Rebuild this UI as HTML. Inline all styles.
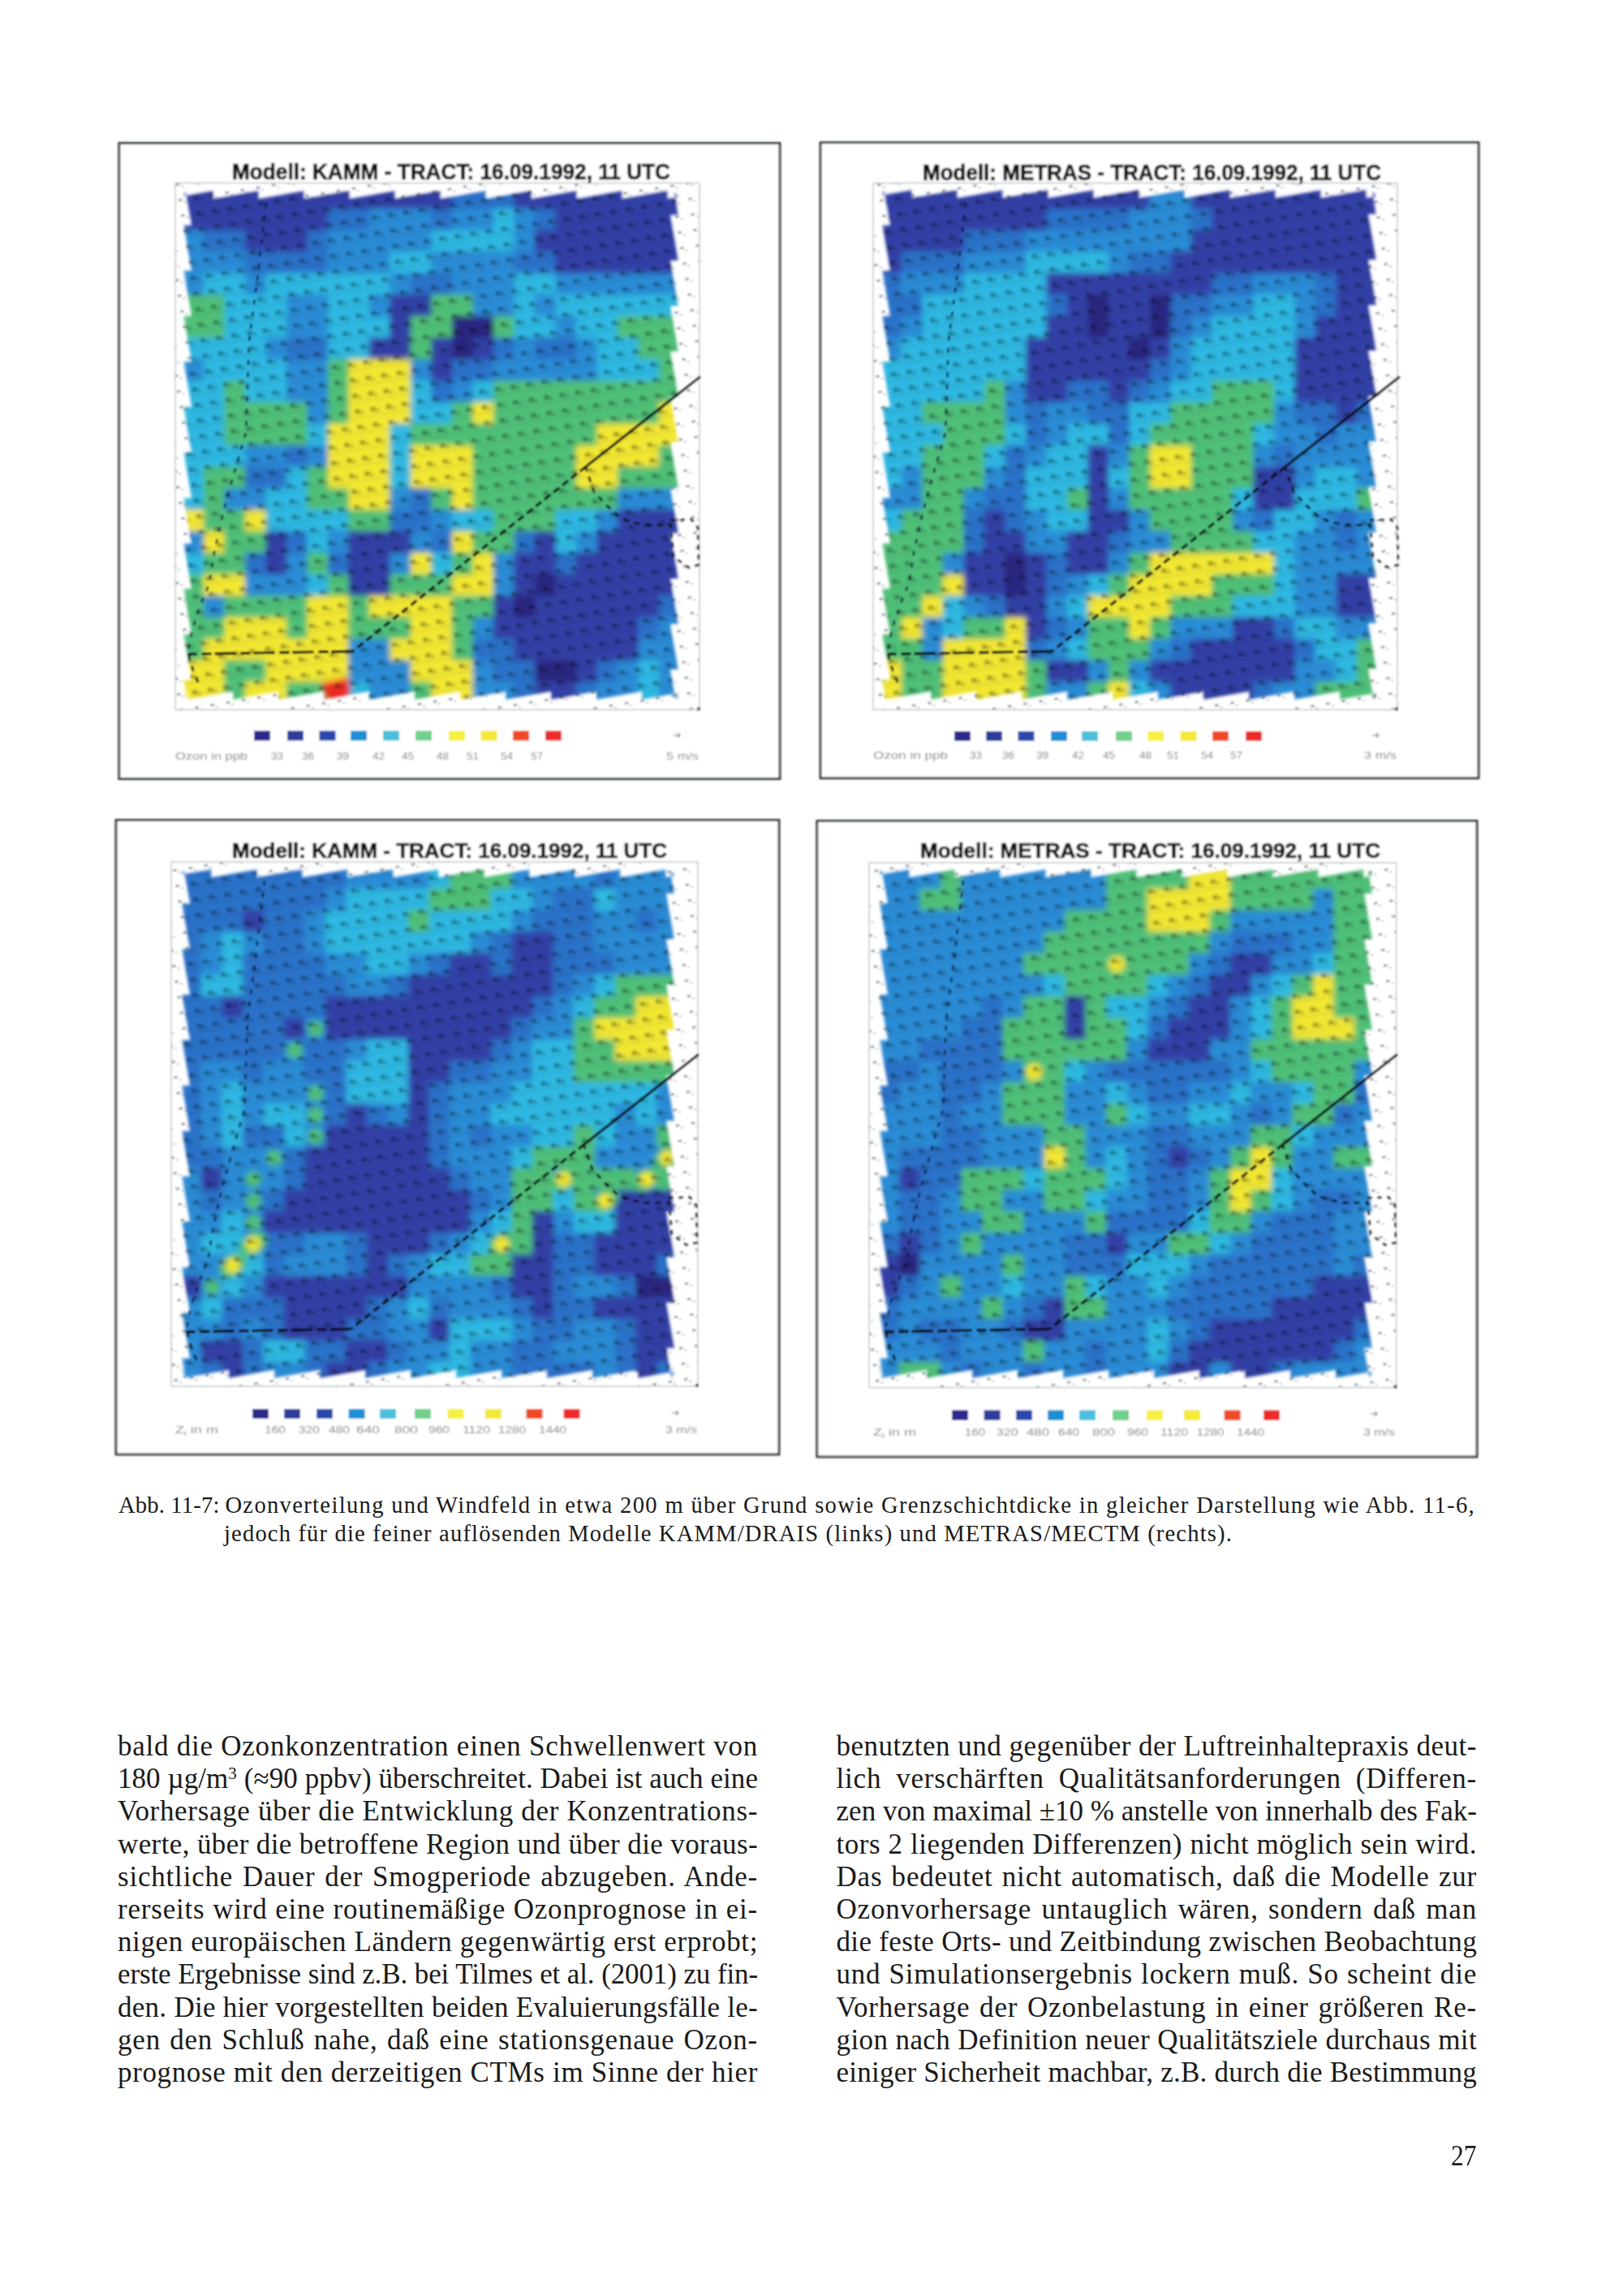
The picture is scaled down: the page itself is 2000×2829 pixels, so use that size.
<!DOCTYPE html>
<html lang="de"><head><meta charset="utf-8"><title>Abb. 11-7</title>
<style>
html,body{margin:0;padding:0;background:#fff}
body{width:2000px;height:2829px;position:relative;overflow:hidden;font-family:"Liberation Serif",serif;color:#1a1a1a}
.l{position:absolute;white-space:nowrap;transform-origin:0 0;line-height:1}
.b{font-size:35px}
.c{font-size:28.6px;letter-spacing:1.1px}
sup{font-size:60%;line-height:0;vertical-align:baseline;position:relative;top:-0.55em}
</style></head><body>
<svg width="2000" height="2829" viewBox="0 0 2000 2829" style="position:absolute;left:0;top:0;font-family:'Liberation Sans',sans-serif">
<defs>
<filter id="bl" x="-5%" y="-5%" width="110%" height="110%"><feGaussianBlur stdDeviation="3.2"/></filter>
<filter id="bl2" x="-5%" y="-5%" width="110%" height="110%"><feGaussianBlur stdDeviation="1.6"/></filter>
<filter id="soft" x="-2%" y="-2%" width="104%" height="104%"><feGaussianBlur stdDeviation="0.9"/></filter>
<pattern id="dots" width="19.4" height="19.4" patternUnits="userSpaceOnUse" patternTransform="rotate(-9)"><rect x="3.5" y="4.5" width="6" height="5" fill="#000" opacity="0.40"/><rect x="9.5" y="7.5" width="5" height="3.5" fill="#000" opacity="0.22"/><rect x="0" y="13" width="19.4" height="3" fill="#000" opacity="0.05"/></pattern>
<pattern id="spk" width="19.4" height="19.4" patternUnits="userSpaceOnUse" patternTransform="rotate(-9)"><rect x="4" y="5" width="4.5" height="3" fill="#3e444c" opacity="0.5"/><rect x="10" y="9" width="3" height="2" fill="#3e444c" opacity="0.3"/></pattern>
</defs>
<g filter="url(#soft)">
<rect x="146.8" y="176.4" width="814.2" height="783.2" fill="#fff" stroke="#2b3234" stroke-width="2.8"/>
<rect x="216.0" y="225.5" width="646.0" height="649.0" fill="url(#spk)"/>
<rect x="216.0" y="225.5" width="646.0" height="649.0" fill="none" stroke="#b9bcc0" stroke-width="1.3"/>
<rect x="859.0" y="871.5" width="4" height="4" fill="#444"/>
<clipPath id="cp1"><path d="M226.0 241.5 L262.4 235.0 L262.4 245.0 L318.4 235.0 L318.4 245.0 L374.4 235.0 L374.4 245.0 L430.4 235.0 L430.4 245.0 L486.4 235.0 L486.4 245.0 L542.4 235.0 L542.4 245.0 L598.4 235.0 L598.4 245.0 L654.4 235.0 L654.4 245.0 L710.4 235.0 L710.4 245.0 L766.4 235.0 L766.4 245.0 L822.4 235.0 L822.4 245.0 L836.0 242.6 L831.0 237.0 L836.0 265.0 L826.0 265.0 L836.0 321.0 L826.0 321.0 L836.0 377.0 L826.0 377.0 L836.0 433.0 L826.0 433.0 L836.0 489.0 L826.0 489.0 L836.0 545.0 L826.0 545.0 L836.0 601.0 L826.0 601.0 L836.0 657.0 L826.0 657.0 L836.0 713.0 L826.0 713.0 L836.0 769.0 L826.0 769.0 L836.0 825.0 L826.0 825.0 L832.6 862.0 L836.0 854.0 L791.2 862.0 L791.2 852.0 L735.2 862.0 L735.2 852.0 L679.2 862.0 L679.2 852.0 L623.2 862.0 L623.2 852.0 L567.2 862.0 L567.2 852.0 L511.2 862.0 L511.2 852.0 L455.2 862.0 L455.2 852.0 L399.2 862.0 L399.2 852.0 L343.2 862.0 L343.2 852.0 L287.2 862.0 L287.2 852.0 L231.2 862.0 L231.2 852.0 L226.0 852.9 L230.0 860.0 L226.0 837.6 L236.0 837.6 L226.0 781.6 L236.0 781.6 L226.0 725.6 L236.0 725.6 L226.0 669.6 L236.0 669.6 L226.0 613.6 L236.0 613.6 L226.0 557.6 L236.0 557.6 L226.0 501.6 L236.0 501.6 L226.0 445.6 L236.0 445.6 L226.0 389.6 L236.0 389.6 L226.0 333.6 L236.0 333.6 L226.0 277.6 L236.0 277.6 L228.4 235.0 Z"/></clipPath>
<g filter="url(#bl2)">
<g clip-path="url(#cp1)">
<g filter="url(#bl)">
<rect x="225.5" y="230.5" width="332.5" height="27.5" fill="#3340a6"/>
<rect x="557.0" y="230.5" width="77.5" height="27.5" fill="#2c72c9"/>
<rect x="633.5" y="230.5" width="205.0" height="27.5" fill="#3340a6"/>
<rect x="225.5" y="257.0" width="179.5" height="27.5" fill="#3340a6"/>
<rect x="404.0" y="257.0" width="52.0" height="27.5" fill="#2c72c9"/>
<rect x="455.0" y="257.0" width="77.5" height="27.5" fill="#2a8cd6"/>
<rect x="531.5" y="257.0" width="26.5" height="27.5" fill="#2c72c9"/>
<rect x="557.0" y="257.0" width="52.0" height="27.5" fill="#2a8cd6"/>
<rect x="608.0" y="257.0" width="26.5" height="27.5" fill="#2fb8e2"/>
<rect x="633.5" y="257.0" width="26.5" height="27.5" fill="#2a8cd6"/>
<rect x="659.0" y="257.0" width="26.5" height="27.5" fill="#2c72c9"/>
<rect x="684.5" y="257.0" width="154.0" height="27.5" fill="#3340a6"/>
<rect x="225.5" y="283.5" width="26.5" height="27.5" fill="#2a8cd6"/>
<rect x="251.0" y="283.5" width="52.0" height="27.5" fill="#2c72c9"/>
<rect x="302.0" y="283.5" width="77.5" height="27.5" fill="#3340a6"/>
<rect x="378.5" y="283.5" width="26.5" height="27.5" fill="#2c72c9"/>
<rect x="404.0" y="283.5" width="128.5" height="27.5" fill="#2a8cd6"/>
<rect x="531.5" y="283.5" width="103.0" height="27.5" fill="#2fb8e2"/>
<rect x="633.5" y="283.5" width="26.5" height="27.5" fill="#2a8cd6"/>
<rect x="659.0" y="283.5" width="179.5" height="27.5" fill="#3340a6"/>
<rect x="225.5" y="310.0" width="77.5" height="27.5" fill="#2a8cd6"/>
<rect x="302.0" y="310.0" width="103.0" height="27.5" fill="#2c72c9"/>
<rect x="404.0" y="310.0" width="77.5" height="27.5" fill="#2a8cd6"/>
<rect x="480.5" y="310.0" width="52.0" height="27.5" fill="#2fb8e2"/>
<rect x="531.5" y="310.0" width="103.0" height="27.5" fill="#2a8cd6"/>
<rect x="633.5" y="310.0" width="52.0" height="27.5" fill="#2c72c9"/>
<rect x="684.5" y="310.0" width="154.0" height="27.5" fill="#3340a6"/>
<rect x="225.5" y="336.5" width="26.5" height="27.5" fill="#2a8cd6"/>
<rect x="251.0" y="336.5" width="52.0" height="27.5" fill="#2fb8e2"/>
<rect x="302.0" y="336.5" width="26.5" height="27.5" fill="#2a8cd6"/>
<rect x="327.5" y="336.5" width="154.0" height="27.5" fill="#2fb8e2"/>
<rect x="480.5" y="336.5" width="26.5" height="27.5" fill="#2a8cd6"/>
<rect x="506.0" y="336.5" width="52.0" height="27.5" fill="#2c72c9"/>
<rect x="557.0" y="336.5" width="77.5" height="27.5" fill="#2a8cd6"/>
<rect x="633.5" y="336.5" width="52.0" height="27.5" fill="#2fb8e2"/>
<rect x="684.5" y="336.5" width="154.0" height="27.5" fill="#2a8cd6"/>
<rect x="225.5" y="363.0" width="52.0" height="27.5" fill="#50c078"/>
<rect x="276.5" y="363.0" width="77.5" height="27.5" fill="#2fb8e2"/>
<rect x="353.0" y="363.0" width="52.0" height="27.5" fill="#2a8cd6"/>
<rect x="404.0" y="363.0" width="52.0" height="27.5" fill="#2fb8e2"/>
<rect x="455.0" y="363.0" width="26.5" height="27.5" fill="#2a8cd6"/>
<rect x="480.5" y="363.0" width="52.0" height="27.5" fill="#3340a6"/>
<rect x="531.5" y="363.0" width="52.0" height="27.5" fill="#50c078"/>
<rect x="582.5" y="363.0" width="52.0" height="27.5" fill="#2a8cd6"/>
<rect x="633.5" y="363.0" width="26.5" height="27.5" fill="#2fb8e2"/>
<rect x="659.0" y="363.0" width="26.5" height="27.5" fill="#2a8cd6"/>
<rect x="684.5" y="363.0" width="154.0" height="27.5" fill="#2fb8e2"/>
<rect x="225.5" y="389.5" width="52.0" height="27.5" fill="#50c078"/>
<rect x="276.5" y="389.5" width="77.5" height="27.5" fill="#2fb8e2"/>
<rect x="353.0" y="389.5" width="52.0" height="27.5" fill="#2a8cd6"/>
<rect x="404.0" y="389.5" width="77.5" height="27.5" fill="#2fb8e2"/>
<rect x="480.5" y="389.5" width="26.5" height="27.5" fill="#3340a6"/>
<rect x="506.0" y="389.5" width="52.0" height="27.5" fill="#50c078"/>
<rect x="557.0" y="389.5" width="52.0" height="27.5" fill="#2a2880"/>
<rect x="608.0" y="389.5" width="26.5" height="27.5" fill="#50c078"/>
<rect x="633.5" y="389.5" width="52.0" height="27.5" fill="#2fb8e2"/>
<rect x="684.5" y="389.5" width="26.5" height="27.5" fill="#2a8cd6"/>
<rect x="710.0" y="389.5" width="52.0" height="27.5" fill="#2fb8e2"/>
<rect x="761.0" y="389.5" width="77.5" height="27.5" fill="#50c078"/>
<rect x="225.5" y="416.0" width="103.0" height="27.5" fill="#2fb8e2"/>
<rect x="327.5" y="416.0" width="26.5" height="27.5" fill="#2a8cd6"/>
<rect x="353.0" y="416.0" width="52.0" height="27.5" fill="#2c72c9"/>
<rect x="404.0" y="416.0" width="52.0" height="27.5" fill="#2fb8e2"/>
<rect x="455.0" y="416.0" width="52.0" height="27.5" fill="#3340a6"/>
<rect x="506.0" y="416.0" width="26.5" height="27.5" fill="#50c078"/>
<rect x="531.5" y="416.0" width="26.5" height="27.5" fill="#3340a6"/>
<rect x="557.0" y="416.0" width="26.5" height="27.5" fill="#2a2880"/>
<rect x="582.5" y="416.0" width="26.5" height="27.5" fill="#3340a6"/>
<rect x="608.0" y="416.0" width="26.5" height="27.5" fill="#2c72c9"/>
<rect x="633.5" y="416.0" width="26.5" height="27.5" fill="#2a8cd6"/>
<rect x="659.0" y="416.0" width="52.0" height="27.5" fill="#2c72c9"/>
<rect x="710.0" y="416.0" width="26.5" height="27.5" fill="#2a8cd6"/>
<rect x="735.5" y="416.0" width="52.0" height="27.5" fill="#2fb8e2"/>
<rect x="786.5" y="416.0" width="52.0" height="27.5" fill="#50c078"/>
<rect x="225.5" y="442.5" width="26.5" height="27.5" fill="#2a8cd6"/>
<rect x="251.0" y="442.5" width="103.0" height="27.5" fill="#2fb8e2"/>
<rect x="353.0" y="442.5" width="52.0" height="27.5" fill="#2a8cd6"/>
<rect x="404.0" y="442.5" width="26.5" height="27.5" fill="#50c078"/>
<rect x="429.5" y="442.5" width="77.5" height="27.5" fill="#f2e732"/>
<rect x="506.0" y="442.5" width="26.5" height="27.5" fill="#2a8cd6"/>
<rect x="531.5" y="442.5" width="26.5" height="27.5" fill="#3340a6"/>
<rect x="557.0" y="442.5" width="52.0" height="27.5" fill="#2c72c9"/>
<rect x="608.0" y="442.5" width="128.5" height="27.5" fill="#2a8cd6"/>
<rect x="735.5" y="442.5" width="77.5" height="27.5" fill="#2fb8e2"/>
<rect x="812.0" y="442.5" width="26.5" height="27.5" fill="#50c078"/>
<rect x="225.5" y="469.0" width="52.0" height="27.5" fill="#2fb8e2"/>
<rect x="276.5" y="469.0" width="26.5" height="27.5" fill="#50c078"/>
<rect x="302.0" y="469.0" width="52.0" height="27.5" fill="#2fb8e2"/>
<rect x="353.0" y="469.0" width="52.0" height="27.5" fill="#2a8cd6"/>
<rect x="404.0" y="469.0" width="26.5" height="27.5" fill="#50c078"/>
<rect x="429.5" y="469.0" width="77.5" height="27.5" fill="#f2e732"/>
<rect x="506.0" y="469.0" width="26.5" height="27.5" fill="#2fb8e2"/>
<rect x="531.5" y="469.0" width="26.5" height="27.5" fill="#2c72c9"/>
<rect x="557.0" y="469.0" width="26.5" height="27.5" fill="#2a8cd6"/>
<rect x="582.5" y="469.0" width="26.5" height="27.5" fill="#2fb8e2"/>
<rect x="608.0" y="469.0" width="230.5" height="27.5" fill="#50c078"/>
<rect x="225.5" y="495.5" width="52.0" height="27.5" fill="#2fb8e2"/>
<rect x="276.5" y="495.5" width="103.0" height="27.5" fill="#50c078"/>
<rect x="378.5" y="495.5" width="26.5" height="27.5" fill="#2a8cd6"/>
<rect x="404.0" y="495.5" width="26.5" height="27.5" fill="#50c078"/>
<rect x="429.5" y="495.5" width="77.5" height="27.5" fill="#f2e732"/>
<rect x="506.0" y="495.5" width="52.0" height="27.5" fill="#2fb8e2"/>
<rect x="557.0" y="495.5" width="26.5" height="27.5" fill="#50c078"/>
<rect x="582.5" y="495.5" width="26.5" height="27.5" fill="#f2e732"/>
<rect x="608.0" y="495.5" width="205.0" height="27.5" fill="#50c078"/>
<rect x="812.0" y="495.5" width="26.5" height="27.5" fill="#f2e732"/>
<rect x="225.5" y="522.0" width="52.0" height="27.5" fill="#2fb8e2"/>
<rect x="276.5" y="522.0" width="103.0" height="27.5" fill="#50c078"/>
<rect x="378.5" y="522.0" width="26.5" height="27.5" fill="#2fb8e2"/>
<rect x="404.0" y="522.0" width="77.5" height="27.5" fill="#f2e732"/>
<rect x="480.5" y="522.0" width="26.5" height="27.5" fill="#2fb8e2"/>
<rect x="506.0" y="522.0" width="230.5" height="27.5" fill="#50c078"/>
<rect x="735.5" y="522.0" width="103.0" height="27.5" fill="#f2e732"/>
<rect x="225.5" y="548.5" width="77.5" height="27.5" fill="#2fb8e2"/>
<rect x="302.0" y="548.5" width="52.0" height="27.5" fill="#2a8cd6"/>
<rect x="353.0" y="548.5" width="26.5" height="27.5" fill="#2c72c9"/>
<rect x="378.5" y="548.5" width="26.5" height="27.5" fill="#2a8cd6"/>
<rect x="404.0" y="548.5" width="77.5" height="27.5" fill="#f2e732"/>
<rect x="480.5" y="548.5" width="26.5" height="27.5" fill="#2fb8e2"/>
<rect x="506.0" y="548.5" width="77.5" height="27.5" fill="#f2e732"/>
<rect x="582.5" y="548.5" width="128.5" height="27.5" fill="#50c078"/>
<rect x="710.0" y="548.5" width="103.0" height="27.5" fill="#f2e732"/>
<rect x="812.0" y="548.5" width="26.5" height="27.5" fill="#50c078"/>
<rect x="225.5" y="575.0" width="26.5" height="27.5" fill="#2fb8e2"/>
<rect x="251.0" y="575.0" width="52.0" height="27.5" fill="#50c078"/>
<rect x="302.0" y="575.0" width="52.0" height="27.5" fill="#2c72c9"/>
<rect x="353.0" y="575.0" width="26.5" height="27.5" fill="#2fb8e2"/>
<rect x="378.5" y="575.0" width="26.5" height="27.5" fill="#50c078"/>
<rect x="404.0" y="575.0" width="77.5" height="27.5" fill="#f2e732"/>
<rect x="480.5" y="575.0" width="26.5" height="27.5" fill="#2fb8e2"/>
<rect x="506.0" y="575.0" width="77.5" height="27.5" fill="#f2e732"/>
<rect x="582.5" y="575.0" width="128.5" height="27.5" fill="#50c078"/>
<rect x="710.0" y="575.0" width="52.0" height="27.5" fill="#f2e732"/>
<rect x="761.0" y="575.0" width="77.5" height="27.5" fill="#50c078"/>
<rect x="225.5" y="601.5" width="26.5" height="27.5" fill="#2fb8e2"/>
<rect x="251.0" y="601.5" width="26.5" height="27.5" fill="#50c078"/>
<rect x="276.5" y="601.5" width="52.0" height="27.5" fill="#2a8cd6"/>
<rect x="327.5" y="601.5" width="52.0" height="27.5" fill="#2fb8e2"/>
<rect x="378.5" y="601.5" width="52.0" height="27.5" fill="#50c078"/>
<rect x="429.5" y="601.5" width="52.0" height="27.5" fill="#f2e732"/>
<rect x="480.5" y="601.5" width="26.5" height="27.5" fill="#2a8cd6"/>
<rect x="506.0" y="601.5" width="26.5" height="27.5" fill="#2c72c9"/>
<rect x="531.5" y="601.5" width="26.5" height="27.5" fill="#50c078"/>
<rect x="557.0" y="601.5" width="26.5" height="27.5" fill="#f2e732"/>
<rect x="582.5" y="601.5" width="179.5" height="27.5" fill="#50c078"/>
<rect x="761.0" y="601.5" width="77.5" height="27.5" fill="#2a8cd6"/>
<rect x="225.5" y="628.0" width="26.5" height="27.5" fill="#f2e732"/>
<rect x="251.0" y="628.0" width="52.0" height="27.5" fill="#50c078"/>
<rect x="302.0" y="628.0" width="26.5" height="27.5" fill="#f2e732"/>
<rect x="327.5" y="628.0" width="103.0" height="27.5" fill="#2fb8e2"/>
<rect x="429.5" y="628.0" width="52.0" height="27.5" fill="#50c078"/>
<rect x="480.5" y="628.0" width="52.0" height="27.5" fill="#2c72c9"/>
<rect x="531.5" y="628.0" width="26.5" height="27.5" fill="#2a8cd6"/>
<rect x="557.0" y="628.0" width="52.0" height="27.5" fill="#2fb8e2"/>
<rect x="608.0" y="628.0" width="77.5" height="27.5" fill="#50c078"/>
<rect x="684.5" y="628.0" width="52.0" height="27.5" fill="#2fb8e2"/>
<rect x="735.5" y="628.0" width="26.5" height="27.5" fill="#2a8cd6"/>
<rect x="761.0" y="628.0" width="77.5" height="27.5" fill="#3340a6"/>
<rect x="225.5" y="654.5" width="26.5" height="27.5" fill="#2a8cd6"/>
<rect x="251.0" y="654.5" width="26.5" height="27.5" fill="#f2e732"/>
<rect x="276.5" y="654.5" width="52.0" height="27.5" fill="#50c078"/>
<rect x="327.5" y="654.5" width="26.5" height="27.5" fill="#3340a6"/>
<rect x="353.0" y="654.5" width="26.5" height="27.5" fill="#2c72c9"/>
<rect x="378.5" y="654.5" width="26.5" height="27.5" fill="#2fb8e2"/>
<rect x="404.0" y="654.5" width="26.5" height="27.5" fill="#2a8cd6"/>
<rect x="429.5" y="654.5" width="77.5" height="27.5" fill="#3340a6"/>
<rect x="506.0" y="654.5" width="26.5" height="27.5" fill="#2a8cd6"/>
<rect x="531.5" y="654.5" width="26.5" height="27.5" fill="#2c72c9"/>
<rect x="557.0" y="654.5" width="26.5" height="27.5" fill="#f2e732"/>
<rect x="582.5" y="654.5" width="52.0" height="27.5" fill="#50c078"/>
<rect x="633.5" y="654.5" width="26.5" height="27.5" fill="#2c72c9"/>
<rect x="659.0" y="654.5" width="26.5" height="27.5" fill="#3340a6"/>
<rect x="684.5" y="654.5" width="26.5" height="27.5" fill="#2fb8e2"/>
<rect x="710.0" y="654.5" width="26.5" height="27.5" fill="#2a8cd6"/>
<rect x="735.5" y="654.5" width="103.0" height="27.5" fill="#3340a6"/>
<rect x="225.5" y="681.0" width="26.5" height="27.5" fill="#2fb8e2"/>
<rect x="251.0" y="681.0" width="52.0" height="27.5" fill="#50c078"/>
<rect x="302.0" y="681.0" width="26.5" height="27.5" fill="#2c72c9"/>
<rect x="327.5" y="681.0" width="26.5" height="27.5" fill="#3340a6"/>
<rect x="353.0" y="681.0" width="26.5" height="27.5" fill="#2a8cd6"/>
<rect x="378.5" y="681.0" width="26.5" height="27.5" fill="#50c078"/>
<rect x="404.0" y="681.0" width="26.5" height="27.5" fill="#2c72c9"/>
<rect x="429.5" y="681.0" width="52.0" height="27.5" fill="#3340a6"/>
<rect x="480.5" y="681.0" width="26.5" height="27.5" fill="#2a8cd6"/>
<rect x="506.0" y="681.0" width="26.5" height="27.5" fill="#f2e732"/>
<rect x="531.5" y="681.0" width="26.5" height="27.5" fill="#2fb8e2"/>
<rect x="557.0" y="681.0" width="26.5" height="27.5" fill="#50c078"/>
<rect x="582.5" y="681.0" width="26.5" height="27.5" fill="#f2e732"/>
<rect x="608.0" y="681.0" width="26.5" height="27.5" fill="#2a8cd6"/>
<rect x="633.5" y="681.0" width="52.0" height="27.5" fill="#3340a6"/>
<rect x="684.5" y="681.0" width="26.5" height="27.5" fill="#2c72c9"/>
<rect x="710.0" y="681.0" width="128.5" height="27.5" fill="#3340a6"/>
<rect x="225.5" y="707.5" width="26.5" height="27.5" fill="#50c078"/>
<rect x="251.0" y="707.5" width="52.0" height="27.5" fill="#f2e732"/>
<rect x="302.0" y="707.5" width="77.5" height="27.5" fill="#2a8cd6"/>
<rect x="378.5" y="707.5" width="26.5" height="27.5" fill="#2fb8e2"/>
<rect x="404.0" y="707.5" width="26.5" height="27.5" fill="#50c078"/>
<rect x="429.5" y="707.5" width="52.0" height="27.5" fill="#3340a6"/>
<rect x="480.5" y="707.5" width="77.5" height="27.5" fill="#50c078"/>
<rect x="557.0" y="707.5" width="52.0" height="27.5" fill="#f2e732"/>
<rect x="608.0" y="707.5" width="26.5" height="27.5" fill="#2a8cd6"/>
<rect x="633.5" y="707.5" width="26.5" height="27.5" fill="#3340a6"/>
<rect x="659.0" y="707.5" width="26.5" height="27.5" fill="#2a2880"/>
<rect x="684.5" y="707.5" width="154.0" height="27.5" fill="#3340a6"/>
<rect x="225.5" y="734.0" width="26.5" height="27.5" fill="#50c078"/>
<rect x="251.0" y="734.0" width="26.5" height="27.5" fill="#2a8cd6"/>
<rect x="276.5" y="734.0" width="103.0" height="27.5" fill="#50c078"/>
<rect x="378.5" y="734.0" width="52.0" height="27.5" fill="#f2e732"/>
<rect x="429.5" y="734.0" width="26.5" height="27.5" fill="#50c078"/>
<rect x="455.0" y="734.0" width="103.0" height="27.5" fill="#f2e732"/>
<rect x="557.0" y="734.0" width="52.0" height="27.5" fill="#50c078"/>
<rect x="608.0" y="734.0" width="26.5" height="27.5" fill="#3340a6"/>
<rect x="633.5" y="734.0" width="26.5" height="27.5" fill="#2a2880"/>
<rect x="659.0" y="734.0" width="154.0" height="27.5" fill="#3340a6"/>
<rect x="812.0" y="734.0" width="26.5" height="27.5" fill="#2c72c9"/>
<rect x="225.5" y="760.5" width="52.0" height="27.5" fill="#50c078"/>
<rect x="276.5" y="760.5" width="77.5" height="27.5" fill="#f2e732"/>
<rect x="353.0" y="760.5" width="26.5" height="27.5" fill="#50c078"/>
<rect x="378.5" y="760.5" width="52.0" height="27.5" fill="#f2e732"/>
<rect x="429.5" y="760.5" width="77.5" height="27.5" fill="#50c078"/>
<rect x="506.0" y="760.5" width="52.0" height="27.5" fill="#f2e732"/>
<rect x="557.0" y="760.5" width="26.5" height="27.5" fill="#50c078"/>
<rect x="582.5" y="760.5" width="26.5" height="27.5" fill="#2a8cd6"/>
<rect x="608.0" y="760.5" width="179.5" height="27.5" fill="#3340a6"/>
<rect x="786.5" y="760.5" width="26.5" height="27.5" fill="#2c72c9"/>
<rect x="812.0" y="760.5" width="26.5" height="27.5" fill="#2a8cd6"/>
<rect x="225.5" y="787.0" width="26.5" height="27.5" fill="#50c078"/>
<rect x="251.0" y="787.0" width="179.5" height="27.5" fill="#f2e732"/>
<rect x="429.5" y="787.0" width="52.0" height="27.5" fill="#2a8cd6"/>
<rect x="480.5" y="787.0" width="77.5" height="27.5" fill="#f2e732"/>
<rect x="557.0" y="787.0" width="26.5" height="27.5" fill="#50c078"/>
<rect x="582.5" y="787.0" width="52.0" height="27.5" fill="#2c72c9"/>
<rect x="633.5" y="787.0" width="154.0" height="27.5" fill="#3340a6"/>
<rect x="786.5" y="787.0" width="52.0" height="27.5" fill="#2a8cd6"/>
<rect x="225.5" y="813.5" width="52.0" height="27.5" fill="#f2e732"/>
<rect x="276.5" y="813.5" width="52.0" height="27.5" fill="#50c078"/>
<rect x="327.5" y="813.5" width="103.0" height="27.5" fill="#f2e732"/>
<rect x="429.5" y="813.5" width="77.5" height="27.5" fill="#2a8cd6"/>
<rect x="506.0" y="813.5" width="77.5" height="27.5" fill="#f2e732"/>
<rect x="582.5" y="813.5" width="26.5" height="27.5" fill="#2a8cd6"/>
<rect x="608.0" y="813.5" width="52.0" height="27.5" fill="#2c72c9"/>
<rect x="659.0" y="813.5" width="52.0" height="27.5" fill="#2a2880"/>
<rect x="710.0" y="813.5" width="26.5" height="27.5" fill="#3340a6"/>
<rect x="735.5" y="813.5" width="26.5" height="27.5" fill="#2c72c9"/>
<rect x="761.0" y="813.5" width="26.5" height="27.5" fill="#2a8cd6"/>
<rect x="786.5" y="813.5" width="26.5" height="27.5" fill="#2fb8e2"/>
<rect x="812.0" y="813.5" width="26.5" height="27.5" fill="#2a8cd6"/>
<rect x="225.5" y="840.0" width="52.0" height="27.5" fill="#f2e732"/>
<rect x="276.5" y="840.0" width="26.5" height="27.5" fill="#50c078"/>
<rect x="302.0" y="840.0" width="52.0" height="27.5" fill="#f2e732"/>
<rect x="353.0" y="840.0" width="52.0" height="27.5" fill="#50c078"/>
<rect x="404.0" y="840.0" width="26.5" height="27.5" fill="#ee2c24"/>
<rect x="429.5" y="840.0" width="26.5" height="27.5" fill="#2fb8e2"/>
<rect x="455.0" y="840.0" width="52.0" height="27.5" fill="#2a8cd6"/>
<rect x="506.0" y="840.0" width="26.5" height="27.5" fill="#50c078"/>
<rect x="531.5" y="840.0" width="52.0" height="27.5" fill="#f2e732"/>
<rect x="582.5" y="840.0" width="52.0" height="27.5" fill="#2a8cd6"/>
<rect x="633.5" y="840.0" width="26.5" height="27.5" fill="#2c72c9"/>
<rect x="659.0" y="840.0" width="52.0" height="27.5" fill="#3340a6"/>
<rect x="710.0" y="840.0" width="26.5" height="27.5" fill="#2c72c9"/>
<rect x="735.5" y="840.0" width="52.0" height="27.5" fill="#2a8cd6"/>
<rect x="786.5" y="840.0" width="26.5" height="27.5" fill="#2fb8e2"/>
<rect x="812.0" y="840.0" width="26.5" height="27.5" fill="#2a8cd6"/>
<rect x="398" y="838" width="33" height="19" fill="#ee2c24" transform="rotate(-12 414 848)"/>
</g>
<rect x="216.0" y="225.0" width="630.0" height="647.0" fill="url(#dots)"/>
</g>
</g>
<polyline points="863.0,464.0 722.0,575.0" fill="none" stroke="#0a0a14" stroke-width="3.4"/>
<polyline points="722.0,575.0 434.5,802.5" fill="none" stroke="#0a0a14" stroke-width="3.4" stroke-dasharray="9 5"/>
<polyline points="434.5,802.5 232.0,806.0" fill="none" stroke="#0a0a14" stroke-width="3.4" stroke-dasharray="26 4 12 6"/>
<polyline points="328.0,250.0 317.0,344.0 307.0,420.0 303.0,533.0 296.0,557.0 283.0,602.0 273.0,640.0 264.0,681.0 258.0,719.0 250.0,738.0 237.0,775.0 232.0,802.0" fill="none" stroke="#0b1238" stroke-width="2.8" stroke-dasharray="6 9" opacity="0.78"/>
<polyline points="232.0,806.0 238.0,826.0 247.0,848.0" fill="none" stroke="#0a0a14" stroke-width="3.2" stroke-dasharray="7 8" opacity="0.8"/>
<polyline points="721.0,574.0 732.0,606.0 749.0,624.0 764.0,638.0 777.0,643.0 796.0,647.0 826.0,647.0" fill="none" stroke="#0a0a14" stroke-width="3.2" stroke-dasharray="7 7" opacity="0.8"/>
<polygon points="826.0,641.0 852.0,640.0 860.0,650.0 861.0,696.0 848.0,699.0 830.0,686.0" fill="none" stroke="#111" stroke-width="3.2" stroke-dasharray="6 6" opacity="0.85"/>
<text x="286.0" y="221.2" font-size="27" font-weight="bold" fill="#0a0a0a" stroke="#0a0a0a" stroke-width="0.7" textLength="540.0" lengthAdjust="spacingAndGlyphs">Modell: KAMM - TRACT: 16.09.1992, 11 UTC</text>
<rect x="313.0" y="900.5" width="20.0" height="12.0" fill="#2c2c8c"/>
<rect x="354.0" y="900.5" width="20.0" height="12.0" fill="#2f3d9b"/>
<rect x="393.5" y="900.5" width="20.0" height="12.0" fill="#2a4aaa"/>
<rect x="432.0" y="900.5" width="20.0" height="12.0" fill="#1f8fd6"/>
<rect x="472.0" y="900.5" width="20.0" height="12.0" fill="#4cc0da"/>
<rect x="512.0" y="900.5" width="20.0" height="12.0" fill="#6fd08c"/>
<rect x="553.0" y="900.5" width="20.0" height="12.0" fill="#f6f040"/>
<rect x="592.5" y="900.5" width="20.0" height="12.0" fill="#f4e838"/>
<rect x="632.0" y="900.5" width="20.0" height="12.0" fill="#f04a28"/>
<rect x="672.0" y="900.5" width="20.0" height="12.0" fill="#ee2a2a"/>
<text x="216.0" y="936.0" font-size="13.5" fill="#7c8187" textLength="89.0" lengthAdjust="spacingAndGlyphs">Ozon in ppb</text>
<text x="334.0" y="936.0" font-size="13.5" fill="#7c8187">33</text>
<text x="372.0" y="936.0" font-size="13.5" fill="#7c8187">36</text>
<text x="415.0" y="936.0" font-size="13.5" fill="#7c8187">39</text>
<text x="459.0" y="936.0" font-size="13.5" fill="#7c8187">42</text>
<text x="495.0" y="936.0" font-size="13.5" fill="#7c8187">45</text>
<text x="538.0" y="936.0" font-size="13.5" fill="#7c8187">48</text>
<text x="575.0" y="936.0" font-size="13.5" fill="#7c8187">51</text>
<text x="617.0" y="936.0" font-size="13.5" fill="#7c8187">54</text>
<text x="654.0" y="936.0" font-size="13.5" fill="#7c8187">57</text>
<text x="821.0" y="936.0" font-size="13.5" fill="#7c8187" textLength="40.0" lengthAdjust="spacingAndGlyphs">5 m/s</text>
<path d="M830.0 906.0 h8 m-3 -3 l3 3 l-3 3" fill="none" stroke="#999" stroke-width="1.5"/>
<rect x="1011.0" y="175.7" width="811.0" height="783.1" fill="#fff" stroke="#2b3234" stroke-width="2.8"/>
<rect x="1076.0" y="225.5" width="646.0" height="649.0" fill="url(#spk)"/>
<rect x="1076.0" y="225.5" width="646.0" height="649.0" fill="none" stroke="#b9bcc0" stroke-width="1.3"/>
<rect x="1719.0" y="871.5" width="4" height="4" fill="#444"/>
<clipPath id="cp2"><path d="M1087.0 240.5 L1123.4 234.0 L1123.4 244.0 L1179.4 234.0 L1179.4 244.0 L1235.4 234.0 L1235.4 244.0 L1291.4 234.0 L1291.4 244.0 L1347.4 234.0 L1347.4 244.0 L1403.4 234.0 L1403.4 244.0 L1459.4 234.0 L1459.4 244.0 L1515.4 234.0 L1515.4 244.0 L1571.4 234.0 L1571.4 244.0 L1627.4 234.0 L1627.4 244.0 L1683.4 234.0 L1683.4 244.0 L1696.0 241.8 L1691.0 236.0 L1696.0 264.0 L1686.0 264.0 L1696.0 320.0 L1686.0 320.0 L1696.0 376.0 L1686.0 376.0 L1696.0 432.0 L1686.0 432.0 L1696.0 488.0 L1686.0 488.0 L1696.0 544.0 L1686.0 544.0 L1696.0 600.0 L1686.0 600.0 L1696.0 656.0 L1686.0 656.0 L1696.0 712.0 L1686.0 712.0 L1696.0 768.0 L1686.0 768.0 L1696.0 824.0 L1686.0 824.0 L1692.8 862.0 L1696.0 854.0 L1651.2 862.0 L1651.2 852.0 L1595.2 862.0 L1595.2 852.0 L1539.2 862.0 L1539.2 852.0 L1483.2 862.0 L1483.2 852.0 L1427.2 862.0 L1427.2 852.0 L1371.2 862.0 L1371.2 852.0 L1315.2 862.0 L1315.2 852.0 L1259.2 862.0 L1259.2 852.0 L1203.2 862.0 L1203.2 852.0 L1147.2 862.0 L1147.2 852.0 L1091.2 862.0 L1091.2 852.0 L1087.0 852.8 L1091.0 860.0 L1087.0 837.6 L1097.0 837.6 L1087.0 781.6 L1097.0 781.6 L1087.0 725.6 L1097.0 725.6 L1087.0 669.6 L1097.0 669.6 L1087.0 613.6 L1097.0 613.6 L1087.0 557.6 L1097.0 557.6 L1087.0 501.6 L1097.0 501.6 L1087.0 445.6 L1097.0 445.6 L1087.0 389.6 L1097.0 389.6 L1087.0 333.6 L1097.0 333.6 L1087.0 277.6 L1097.0 277.6 L1089.2 234.0 Z"/></clipPath>
<g filter="url(#bl2)">
<g clip-path="url(#cp2)">
<g filter="url(#bl)">
<rect x="1085.5" y="230.5" width="332.5" height="27.5" fill="#3340a6"/>
<rect x="1417.0" y="230.5" width="52.0" height="27.5" fill="#2a8cd6"/>
<rect x="1468.0" y="230.5" width="230.5" height="27.5" fill="#3340a6"/>
<rect x="1085.5" y="257.0" width="205.0" height="27.5" fill="#3340a6"/>
<rect x="1289.5" y="257.0" width="103.0" height="27.5" fill="#2c72c9"/>
<rect x="1391.5" y="257.0" width="77.5" height="27.5" fill="#2a8cd6"/>
<rect x="1468.0" y="257.0" width="26.5" height="27.5" fill="#2c72c9"/>
<rect x="1493.5" y="257.0" width="205.0" height="27.5" fill="#3340a6"/>
<rect x="1085.5" y="283.5" width="103.0" height="27.5" fill="#3340a6"/>
<rect x="1187.5" y="283.5" width="77.5" height="27.5" fill="#2c72c9"/>
<rect x="1264.0" y="283.5" width="205.0" height="27.5" fill="#2a8cd6"/>
<rect x="1468.0" y="283.5" width="230.5" height="27.5" fill="#3340a6"/>
<rect x="1085.5" y="310.0" width="26.5" height="27.5" fill="#3340a6"/>
<rect x="1111.0" y="310.0" width="77.5" height="27.5" fill="#2c72c9"/>
<rect x="1187.5" y="310.0" width="77.5" height="27.5" fill="#2a8cd6"/>
<rect x="1264.0" y="310.0" width="103.0" height="27.5" fill="#2fb8e2"/>
<rect x="1366.0" y="310.0" width="26.5" height="27.5" fill="#2a8cd6"/>
<rect x="1391.5" y="310.0" width="52.0" height="27.5" fill="#2c72c9"/>
<rect x="1442.5" y="310.0" width="256.0" height="27.5" fill="#3340a6"/>
<rect x="1085.5" y="336.5" width="26.5" height="27.5" fill="#2c72c9"/>
<rect x="1111.0" y="336.5" width="77.5" height="27.5" fill="#2a8cd6"/>
<rect x="1187.5" y="336.5" width="103.0" height="27.5" fill="#2fb8e2"/>
<rect x="1289.5" y="336.5" width="205.0" height="27.5" fill="#3340a6"/>
<rect x="1493.5" y="336.5" width="52.0" height="27.5" fill="#2c72c9"/>
<rect x="1544.5" y="336.5" width="77.5" height="27.5" fill="#2a8cd6"/>
<rect x="1621.0" y="336.5" width="26.5" height="27.5" fill="#2c72c9"/>
<rect x="1646.5" y="336.5" width="52.0" height="27.5" fill="#3340a6"/>
<rect x="1085.5" y="363.0" width="52.0" height="27.5" fill="#2c72c9"/>
<rect x="1136.5" y="363.0" width="154.0" height="27.5" fill="#2fb8e2"/>
<rect x="1289.5" y="363.0" width="26.5" height="27.5" fill="#2c72c9"/>
<rect x="1315.0" y="363.0" width="26.5" height="27.5" fill="#3340a6"/>
<rect x="1340.5" y="363.0" width="26.5" height="27.5" fill="#2a2880"/>
<rect x="1366.0" y="363.0" width="52.0" height="27.5" fill="#3340a6"/>
<rect x="1417.0" y="363.0" width="26.5" height="27.5" fill="#2a2880"/>
<rect x="1442.5" y="363.0" width="52.0" height="27.5" fill="#2c72c9"/>
<rect x="1493.5" y="363.0" width="52.0" height="27.5" fill="#2a8cd6"/>
<rect x="1544.5" y="363.0" width="52.0" height="27.5" fill="#2fb8e2"/>
<rect x="1595.5" y="363.0" width="26.5" height="27.5" fill="#2a8cd6"/>
<rect x="1621.0" y="363.0" width="26.5" height="27.5" fill="#2c72c9"/>
<rect x="1646.5" y="363.0" width="52.0" height="27.5" fill="#3340a6"/>
<rect x="1085.5" y="389.5" width="26.5" height="27.5" fill="#2c72c9"/>
<rect x="1111.0" y="389.5" width="26.5" height="27.5" fill="#2a8cd6"/>
<rect x="1136.5" y="389.5" width="154.0" height="27.5" fill="#2fb8e2"/>
<rect x="1289.5" y="389.5" width="52.0" height="27.5" fill="#3340a6"/>
<rect x="1340.5" y="389.5" width="26.5" height="27.5" fill="#2a2880"/>
<rect x="1366.0" y="389.5" width="52.0" height="27.5" fill="#3340a6"/>
<rect x="1417.0" y="389.5" width="26.5" height="27.5" fill="#2a2880"/>
<rect x="1442.5" y="389.5" width="26.5" height="27.5" fill="#2c72c9"/>
<rect x="1468.0" y="389.5" width="26.5" height="27.5" fill="#2a8cd6"/>
<rect x="1493.5" y="389.5" width="103.0" height="27.5" fill="#2fb8e2"/>
<rect x="1595.5" y="389.5" width="26.5" height="27.5" fill="#2a8cd6"/>
<rect x="1621.0" y="389.5" width="77.5" height="27.5" fill="#3340a6"/>
<rect x="1085.5" y="416.0" width="26.5" height="27.5" fill="#2a8cd6"/>
<rect x="1111.0" y="416.0" width="154.0" height="27.5" fill="#2fb8e2"/>
<rect x="1264.0" y="416.0" width="128.5" height="27.5" fill="#3340a6"/>
<rect x="1391.5" y="416.0" width="26.5" height="27.5" fill="#2a2880"/>
<rect x="1417.0" y="416.0" width="26.5" height="27.5" fill="#3340a6"/>
<rect x="1442.5" y="416.0" width="26.5" height="27.5" fill="#2a8cd6"/>
<rect x="1468.0" y="416.0" width="128.5" height="27.5" fill="#2fb8e2"/>
<rect x="1595.5" y="416.0" width="103.0" height="27.5" fill="#3340a6"/>
<rect x="1085.5" y="442.5" width="179.5" height="27.5" fill="#2fb8e2"/>
<rect x="1264.0" y="442.5" width="154.0" height="27.5" fill="#3340a6"/>
<rect x="1417.0" y="442.5" width="26.5" height="27.5" fill="#2c72c9"/>
<rect x="1442.5" y="442.5" width="26.5" height="27.5" fill="#2a8cd6"/>
<rect x="1468.0" y="442.5" width="128.5" height="27.5" fill="#2fb8e2"/>
<rect x="1595.5" y="442.5" width="103.0" height="27.5" fill="#3340a6"/>
<rect x="1085.5" y="469.0" width="128.5" height="27.5" fill="#2fb8e2"/>
<rect x="1213.0" y="469.0" width="26.5" height="27.5" fill="#50c078"/>
<rect x="1238.5" y="469.0" width="26.5" height="27.5" fill="#2a8cd6"/>
<rect x="1264.0" y="469.0" width="52.0" height="27.5" fill="#3340a6"/>
<rect x="1315.0" y="469.0" width="52.0" height="27.5" fill="#2c72c9"/>
<rect x="1366.0" y="469.0" width="26.5" height="27.5" fill="#3340a6"/>
<rect x="1391.5" y="469.0" width="26.5" height="27.5" fill="#2c72c9"/>
<rect x="1417.0" y="469.0" width="26.5" height="27.5" fill="#2a8cd6"/>
<rect x="1442.5" y="469.0" width="52.0" height="27.5" fill="#2fb8e2"/>
<rect x="1493.5" y="469.0" width="77.5" height="27.5" fill="#50c078"/>
<rect x="1570.0" y="469.0" width="26.5" height="27.5" fill="#2fb8e2"/>
<rect x="1595.5" y="469.0" width="103.0" height="27.5" fill="#3340a6"/>
<rect x="1085.5" y="495.5" width="52.0" height="27.5" fill="#2fb8e2"/>
<rect x="1136.5" y="495.5" width="103.0" height="27.5" fill="#50c078"/>
<rect x="1238.5" y="495.5" width="26.5" height="27.5" fill="#2a8cd6"/>
<rect x="1264.0" y="495.5" width="26.5" height="27.5" fill="#2c72c9"/>
<rect x="1289.5" y="495.5" width="52.0" height="27.5" fill="#2a8cd6"/>
<rect x="1340.5" y="495.5" width="52.0" height="27.5" fill="#2c72c9"/>
<rect x="1391.5" y="495.5" width="52.0" height="27.5" fill="#2fb8e2"/>
<rect x="1442.5" y="495.5" width="128.5" height="27.5" fill="#50c078"/>
<rect x="1570.0" y="495.5" width="26.5" height="27.5" fill="#2a8cd6"/>
<rect x="1595.5" y="495.5" width="52.0" height="27.5" fill="#2c72c9"/>
<rect x="1646.5" y="495.5" width="26.5" height="27.5" fill="#3340a6"/>
<rect x="1672.0" y="495.5" width="26.5" height="27.5" fill="#2c72c9"/>
<rect x="1085.5" y="522.0" width="77.5" height="27.5" fill="#2fb8e2"/>
<rect x="1162.0" y="522.0" width="77.5" height="27.5" fill="#50c078"/>
<rect x="1238.5" y="522.0" width="26.5" height="27.5" fill="#2fb8e2"/>
<rect x="1264.0" y="522.0" width="26.5" height="27.5" fill="#2c72c9"/>
<rect x="1289.5" y="522.0" width="26.5" height="27.5" fill="#2a8cd6"/>
<rect x="1315.0" y="522.0" width="52.0" height="27.5" fill="#2fb8e2"/>
<rect x="1366.0" y="522.0" width="26.5" height="27.5" fill="#2c72c9"/>
<rect x="1391.5" y="522.0" width="26.5" height="27.5" fill="#2fb8e2"/>
<rect x="1417.0" y="522.0" width="128.5" height="27.5" fill="#50c078"/>
<rect x="1544.5" y="522.0" width="26.5" height="27.5" fill="#2fb8e2"/>
<rect x="1570.0" y="522.0" width="52.0" height="27.5" fill="#2a8cd6"/>
<rect x="1621.0" y="522.0" width="26.5" height="27.5" fill="#2c72c9"/>
<rect x="1646.5" y="522.0" width="52.0" height="27.5" fill="#2a8cd6"/>
<rect x="1085.5" y="548.5" width="52.0" height="27.5" fill="#2fb8e2"/>
<rect x="1136.5" y="548.5" width="77.5" height="27.5" fill="#50c078"/>
<rect x="1213.0" y="548.5" width="26.5" height="27.5" fill="#2fb8e2"/>
<rect x="1238.5" y="548.5" width="26.5" height="27.5" fill="#2c72c9"/>
<rect x="1264.0" y="548.5" width="26.5" height="27.5" fill="#2a8cd6"/>
<rect x="1289.5" y="548.5" width="52.0" height="27.5" fill="#2fb8e2"/>
<rect x="1340.5" y="548.5" width="26.5" height="27.5" fill="#3340a6"/>
<rect x="1366.0" y="548.5" width="26.5" height="27.5" fill="#2a8cd6"/>
<rect x="1391.5" y="548.5" width="26.5" height="27.5" fill="#50c078"/>
<rect x="1417.0" y="548.5" width="52.0" height="27.5" fill="#f2e732"/>
<rect x="1468.0" y="548.5" width="77.5" height="27.5" fill="#50c078"/>
<rect x="1544.5" y="548.5" width="26.5" height="27.5" fill="#2a8cd6"/>
<rect x="1570.0" y="548.5" width="26.5" height="27.5" fill="#2c72c9"/>
<rect x="1595.5" y="548.5" width="103.0" height="27.5" fill="#2a8cd6"/>
<rect x="1085.5" y="575.0" width="26.5" height="27.5" fill="#2fb8e2"/>
<rect x="1111.0" y="575.0" width="26.5" height="27.5" fill="#2a8cd6"/>
<rect x="1136.5" y="575.0" width="77.5" height="27.5" fill="#50c078"/>
<rect x="1213.0" y="575.0" width="26.5" height="27.5" fill="#2a8cd6"/>
<rect x="1238.5" y="575.0" width="26.5" height="27.5" fill="#2c72c9"/>
<rect x="1264.0" y="575.0" width="77.5" height="27.5" fill="#2fb8e2"/>
<rect x="1340.5" y="575.0" width="26.5" height="27.5" fill="#3340a6"/>
<rect x="1366.0" y="575.0" width="26.5" height="27.5" fill="#2fb8e2"/>
<rect x="1391.5" y="575.0" width="26.5" height="27.5" fill="#50c078"/>
<rect x="1417.0" y="575.0" width="52.0" height="27.5" fill="#f2e732"/>
<rect x="1468.0" y="575.0" width="77.5" height="27.5" fill="#50c078"/>
<rect x="1544.5" y="575.0" width="52.0" height="27.5" fill="#3340a6"/>
<rect x="1595.5" y="575.0" width="26.5" height="27.5" fill="#2a8cd6"/>
<rect x="1621.0" y="575.0" width="52.0" height="27.5" fill="#2fb8e2"/>
<rect x="1672.0" y="575.0" width="26.5" height="27.5" fill="#2a8cd6"/>
<rect x="1085.5" y="601.5" width="52.0" height="27.5" fill="#2a8cd6"/>
<rect x="1136.5" y="601.5" width="52.0" height="27.5" fill="#50c078"/>
<rect x="1187.5" y="601.5" width="26.5" height="27.5" fill="#2a8cd6"/>
<rect x="1213.0" y="601.5" width="52.0" height="27.5" fill="#2c72c9"/>
<rect x="1264.0" y="601.5" width="52.0" height="27.5" fill="#2fb8e2"/>
<rect x="1315.0" y="601.5" width="26.5" height="27.5" fill="#50c078"/>
<rect x="1340.5" y="601.5" width="26.5" height="27.5" fill="#3340a6"/>
<rect x="1366.0" y="601.5" width="26.5" height="27.5" fill="#2a8cd6"/>
<rect x="1391.5" y="601.5" width="128.5" height="27.5" fill="#50c078"/>
<rect x="1519.0" y="601.5" width="26.5" height="27.5" fill="#2fb8e2"/>
<rect x="1544.5" y="601.5" width="52.0" height="27.5" fill="#3340a6"/>
<rect x="1595.5" y="601.5" width="77.5" height="27.5" fill="#2fb8e2"/>
<rect x="1672.0" y="601.5" width="26.5" height="27.5" fill="#50c078"/>
<rect x="1085.5" y="628.0" width="26.5" height="27.5" fill="#2fb8e2"/>
<rect x="1111.0" y="628.0" width="77.5" height="27.5" fill="#50c078"/>
<rect x="1187.5" y="628.0" width="26.5" height="27.5" fill="#2c72c9"/>
<rect x="1213.0" y="628.0" width="26.5" height="27.5" fill="#3340a6"/>
<rect x="1238.5" y="628.0" width="26.5" height="27.5" fill="#2c72c9"/>
<rect x="1264.0" y="628.0" width="26.5" height="27.5" fill="#2a8cd6"/>
<rect x="1289.5" y="628.0" width="52.0" height="27.5" fill="#2fb8e2"/>
<rect x="1340.5" y="628.0" width="52.0" height="27.5" fill="#3340a6"/>
<rect x="1391.5" y="628.0" width="26.5" height="27.5" fill="#2a8cd6"/>
<rect x="1417.0" y="628.0" width="103.0" height="27.5" fill="#50c078"/>
<rect x="1519.0" y="628.0" width="26.5" height="27.5" fill="#2a8cd6"/>
<rect x="1544.5" y="628.0" width="26.5" height="27.5" fill="#2c72c9"/>
<rect x="1570.0" y="628.0" width="52.0" height="27.5" fill="#2fb8e2"/>
<rect x="1621.0" y="628.0" width="26.5" height="27.5" fill="#2a8cd6"/>
<rect x="1646.5" y="628.0" width="26.5" height="27.5" fill="#2c72c9"/>
<rect x="1672.0" y="628.0" width="26.5" height="27.5" fill="#2a8cd6"/>
<rect x="1085.5" y="654.5" width="103.0" height="27.5" fill="#50c078"/>
<rect x="1187.5" y="654.5" width="26.5" height="27.5" fill="#2c72c9"/>
<rect x="1213.0" y="654.5" width="52.0" height="27.5" fill="#3340a6"/>
<rect x="1264.0" y="654.5" width="52.0" height="27.5" fill="#2a8cd6"/>
<rect x="1315.0" y="654.5" width="52.0" height="27.5" fill="#3340a6"/>
<rect x="1366.0" y="654.5" width="26.5" height="27.5" fill="#2c72c9"/>
<rect x="1391.5" y="654.5" width="52.0" height="27.5" fill="#2a8cd6"/>
<rect x="1442.5" y="654.5" width="103.0" height="27.5" fill="#50c078"/>
<rect x="1544.5" y="654.5" width="52.0" height="27.5" fill="#2fb8e2"/>
<rect x="1595.5" y="654.5" width="52.0" height="27.5" fill="#2a8cd6"/>
<rect x="1646.5" y="654.5" width="26.5" height="27.5" fill="#2c72c9"/>
<rect x="1672.0" y="654.5" width="26.5" height="27.5" fill="#2a8cd6"/>
<rect x="1085.5" y="681.0" width="77.5" height="27.5" fill="#50c078"/>
<rect x="1162.0" y="681.0" width="26.5" height="27.5" fill="#2a8cd6"/>
<rect x="1187.5" y="681.0" width="52.0" height="27.5" fill="#3340a6"/>
<rect x="1238.5" y="681.0" width="26.5" height="27.5" fill="#2a2880"/>
<rect x="1264.0" y="681.0" width="26.5" height="27.5" fill="#3340a6"/>
<rect x="1289.5" y="681.0" width="26.5" height="27.5" fill="#2c72c9"/>
<rect x="1315.0" y="681.0" width="52.0" height="27.5" fill="#3340a6"/>
<rect x="1366.0" y="681.0" width="26.5" height="27.5" fill="#2a8cd6"/>
<rect x="1391.5" y="681.0" width="26.5" height="27.5" fill="#50c078"/>
<rect x="1417.0" y="681.0" width="154.0" height="27.5" fill="#f2e732"/>
<rect x="1570.0" y="681.0" width="26.5" height="27.5" fill="#2fb8e2"/>
<rect x="1595.5" y="681.0" width="103.0" height="27.5" fill="#2a8cd6"/>
<rect x="1085.5" y="707.5" width="77.5" height="27.5" fill="#50c078"/>
<rect x="1162.0" y="707.5" width="26.5" height="27.5" fill="#f2e732"/>
<rect x="1187.5" y="707.5" width="52.0" height="27.5" fill="#3340a6"/>
<rect x="1238.5" y="707.5" width="26.5" height="27.5" fill="#2a2880"/>
<rect x="1264.0" y="707.5" width="26.5" height="27.5" fill="#3340a6"/>
<rect x="1289.5" y="707.5" width="26.5" height="27.5" fill="#2c72c9"/>
<rect x="1315.0" y="707.5" width="26.5" height="27.5" fill="#2a8cd6"/>
<rect x="1340.5" y="707.5" width="26.5" height="27.5" fill="#2fb8e2"/>
<rect x="1366.0" y="707.5" width="26.5" height="27.5" fill="#50c078"/>
<rect x="1391.5" y="707.5" width="103.0" height="27.5" fill="#f2e732"/>
<rect x="1493.5" y="707.5" width="77.5" height="27.5" fill="#50c078"/>
<rect x="1570.0" y="707.5" width="26.5" height="27.5" fill="#2fb8e2"/>
<rect x="1595.5" y="707.5" width="52.0" height="27.5" fill="#2a8cd6"/>
<rect x="1646.5" y="707.5" width="52.0" height="27.5" fill="#3340a6"/>
<rect x="1085.5" y="734.0" width="52.0" height="27.5" fill="#50c078"/>
<rect x="1136.5" y="734.0" width="26.5" height="27.5" fill="#f2e732"/>
<rect x="1162.0" y="734.0" width="26.5" height="27.5" fill="#2fb8e2"/>
<rect x="1187.5" y="734.0" width="26.5" height="27.5" fill="#2a8cd6"/>
<rect x="1213.0" y="734.0" width="26.5" height="27.5" fill="#2c72c9"/>
<rect x="1238.5" y="734.0" width="52.0" height="27.5" fill="#3340a6"/>
<rect x="1289.5" y="734.0" width="26.5" height="27.5" fill="#2a8cd6"/>
<rect x="1315.0" y="734.0" width="26.5" height="27.5" fill="#2fb8e2"/>
<rect x="1340.5" y="734.0" width="103.0" height="27.5" fill="#f2e732"/>
<rect x="1442.5" y="734.0" width="77.5" height="27.5" fill="#50c078"/>
<rect x="1519.0" y="734.0" width="77.5" height="27.5" fill="#2fb8e2"/>
<rect x="1595.5" y="734.0" width="52.0" height="27.5" fill="#2a8cd6"/>
<rect x="1646.5" y="734.0" width="52.0" height="27.5" fill="#3340a6"/>
<rect x="1085.5" y="760.5" width="26.5" height="27.5" fill="#50c078"/>
<rect x="1111.0" y="760.5" width="26.5" height="27.5" fill="#f2e732"/>
<rect x="1136.5" y="760.5" width="26.5" height="27.5" fill="#2a8cd6"/>
<rect x="1162.0" y="760.5" width="26.5" height="27.5" fill="#2fb8e2"/>
<rect x="1187.5" y="760.5" width="52.0" height="27.5" fill="#50c078"/>
<rect x="1238.5" y="760.5" width="26.5" height="27.5" fill="#f2e732"/>
<rect x="1264.0" y="760.5" width="26.5" height="27.5" fill="#3340a6"/>
<rect x="1289.5" y="760.5" width="26.5" height="27.5" fill="#2c72c9"/>
<rect x="1315.0" y="760.5" width="26.5" height="27.5" fill="#2a8cd6"/>
<rect x="1340.5" y="760.5" width="52.0" height="27.5" fill="#50c078"/>
<rect x="1391.5" y="760.5" width="26.5" height="27.5" fill="#f2e732"/>
<rect x="1417.0" y="760.5" width="26.5" height="27.5" fill="#50c078"/>
<rect x="1442.5" y="760.5" width="77.5" height="27.5" fill="#2a8cd6"/>
<rect x="1519.0" y="760.5" width="52.0" height="27.5" fill="#3340a6"/>
<rect x="1570.0" y="760.5" width="26.5" height="27.5" fill="#2c72c9"/>
<rect x="1595.5" y="760.5" width="52.0" height="27.5" fill="#2fb8e2"/>
<rect x="1646.5" y="760.5" width="52.0" height="27.5" fill="#2a8cd6"/>
<rect x="1085.5" y="787.0" width="52.0" height="27.5" fill="#50c078"/>
<rect x="1136.5" y="787.0" width="26.5" height="27.5" fill="#2a8cd6"/>
<rect x="1162.0" y="787.0" width="103.0" height="27.5" fill="#f2e732"/>
<rect x="1264.0" y="787.0" width="26.5" height="27.5" fill="#2c72c9"/>
<rect x="1289.5" y="787.0" width="26.5" height="27.5" fill="#2a8cd6"/>
<rect x="1315.0" y="787.0" width="26.5" height="27.5" fill="#2fb8e2"/>
<rect x="1340.5" y="787.0" width="77.5" height="27.5" fill="#50c078"/>
<rect x="1417.0" y="787.0" width="26.5" height="27.5" fill="#2a8cd6"/>
<rect x="1442.5" y="787.0" width="26.5" height="27.5" fill="#2c72c9"/>
<rect x="1468.0" y="787.0" width="128.5" height="27.5" fill="#3340a6"/>
<rect x="1595.5" y="787.0" width="26.5" height="27.5" fill="#2c72c9"/>
<rect x="1621.0" y="787.0" width="52.0" height="27.5" fill="#2fb8e2"/>
<rect x="1672.0" y="787.0" width="26.5" height="27.5" fill="#50c078"/>
<rect x="1085.5" y="813.5" width="26.5" height="27.5" fill="#f2e732"/>
<rect x="1111.0" y="813.5" width="52.0" height="27.5" fill="#50c078"/>
<rect x="1162.0" y="813.5" width="103.0" height="27.5" fill="#f2e732"/>
<rect x="1264.0" y="813.5" width="26.5" height="27.5" fill="#50c078"/>
<rect x="1289.5" y="813.5" width="52.0" height="27.5" fill="#3340a6"/>
<rect x="1340.5" y="813.5" width="26.5" height="27.5" fill="#2a8cd6"/>
<rect x="1366.0" y="813.5" width="26.5" height="27.5" fill="#50c078"/>
<rect x="1391.5" y="813.5" width="26.5" height="27.5" fill="#2a8cd6"/>
<rect x="1417.0" y="813.5" width="179.5" height="27.5" fill="#3340a6"/>
<rect x="1595.5" y="813.5" width="52.0" height="27.5" fill="#2a8cd6"/>
<rect x="1646.5" y="813.5" width="26.5" height="27.5" fill="#2fb8e2"/>
<rect x="1672.0" y="813.5" width="26.5" height="27.5" fill="#50c078"/>
<rect x="1085.5" y="840.0" width="26.5" height="27.5" fill="#f2e732"/>
<rect x="1111.0" y="840.0" width="52.0" height="27.5" fill="#50c078"/>
<rect x="1162.0" y="840.0" width="103.0" height="27.5" fill="#f2e732"/>
<rect x="1264.0" y="840.0" width="26.5" height="27.5" fill="#50c078"/>
<rect x="1289.5" y="840.0" width="52.0" height="27.5" fill="#2a8cd6"/>
<rect x="1340.5" y="840.0" width="26.5" height="27.5" fill="#50c078"/>
<rect x="1366.0" y="840.0" width="26.5" height="27.5" fill="#f2e732"/>
<rect x="1391.5" y="840.0" width="26.5" height="27.5" fill="#2fb8e2"/>
<rect x="1417.0" y="840.0" width="26.5" height="27.5" fill="#2a8cd6"/>
<rect x="1442.5" y="840.0" width="103.0" height="27.5" fill="#3340a6"/>
<rect x="1544.5" y="840.0" width="26.5" height="27.5" fill="#2c72c9"/>
<rect x="1570.0" y="840.0" width="52.0" height="27.5" fill="#2a8cd6"/>
<rect x="1621.0" y="840.0" width="77.5" height="27.5" fill="#50c078"/>
</g>
<rect x="1077.0" y="224.0" width="629.0" height="648.0" fill="url(#dots)"/>
</g>
</g>
<polyline points="1725.0,464.0 1584.0,575.0" fill="none" stroke="#0a0a14" stroke-width="3.4"/>
<polyline points="1584.0,575.0 1296.5,802.5" fill="none" stroke="#0a0a14" stroke-width="3.4" stroke-dasharray="9 5"/>
<polyline points="1296.5,802.5 1094.0,806.0" fill="none" stroke="#0a0a14" stroke-width="3.4" stroke-dasharray="26 4 12 6"/>
<polyline points="1190.0,250.0 1179.0,344.0 1169.0,420.0 1165.0,533.0 1158.0,557.0 1145.0,602.0 1135.0,640.0 1126.0,681.0 1120.0,719.0 1112.0,738.0 1099.0,775.0 1094.0,802.0" fill="none" stroke="#0b1238" stroke-width="2.8" stroke-dasharray="6 9" opacity="0.78"/>
<polyline points="1094.0,806.0 1100.0,826.0 1109.0,848.0" fill="none" stroke="#0a0a14" stroke-width="3.2" stroke-dasharray="7 8" opacity="0.8"/>
<polyline points="1583.0,574.0 1594.0,606.0 1611.0,624.0 1626.0,638.0 1639.0,643.0 1658.0,647.0 1688.0,647.0" fill="none" stroke="#0a0a14" stroke-width="3.2" stroke-dasharray="7 7" opacity="0.8"/>
<polygon points="1688.0,641.0 1714.0,640.0 1722.0,650.0 1723.0,696.0 1710.0,699.0 1692.0,686.0" fill="none" stroke="#111" stroke-width="3.2" stroke-dasharray="6 6" opacity="0.85"/>
<text x="1137.0" y="222.0" font-size="27" font-weight="bold" fill="#0a0a0a" stroke="#0a0a0a" stroke-width="0.7" textLength="565.0" lengthAdjust="spacingAndGlyphs">Modell: METRAS - TRACT: 16.09.1992, 11 UTC</text>
<rect x="1176.0" y="901.0" width="20.0" height="12.0" fill="#2c2c8c"/>
<rect x="1215.0" y="901.0" width="20.0" height="12.0" fill="#2f3d9b"/>
<rect x="1254.5" y="901.0" width="20.0" height="12.0" fill="#2a4aaa"/>
<rect x="1295.0" y="901.0" width="20.0" height="12.0" fill="#1f8fd6"/>
<rect x="1333.0" y="901.0" width="20.0" height="12.0" fill="#4cc0da"/>
<rect x="1375.0" y="901.0" width="20.0" height="12.0" fill="#6fd08c"/>
<rect x="1414.0" y="901.0" width="20.0" height="12.0" fill="#f6f040"/>
<rect x="1454.6" y="901.0" width="20.0" height="12.0" fill="#f4e838"/>
<rect x="1494.0" y="901.0" width="20.0" height="12.0" fill="#f04a28"/>
<rect x="1535.0" y="901.0" width="20.0" height="12.0" fill="#ee2a2a"/>
<text x="1076.0" y="934.5" font-size="13.5" fill="#7c8187" textLength="92.0" lengthAdjust="spacingAndGlyphs">Ozon in ppb</text>
<text x="1195.0" y="934.5" font-size="13.5" fill="#7c8187">33</text>
<text x="1235.0" y="934.5" font-size="13.5" fill="#7c8187">36</text>
<text x="1277.0" y="934.5" font-size="13.5" fill="#7c8187">39</text>
<text x="1321.0" y="934.5" font-size="13.5" fill="#7c8187">42</text>
<text x="1359.0" y="934.5" font-size="13.5" fill="#7c8187">45</text>
<text x="1404.0" y="934.5" font-size="13.5" fill="#7c8187">48</text>
<text x="1438.0" y="934.5" font-size="13.5" fill="#7c8187">51</text>
<text x="1480.0" y="934.5" font-size="13.5" fill="#7c8187">54</text>
<text x="1516.0" y="934.5" font-size="13.5" fill="#7c8187">57</text>
<text x="1681.0" y="934.5" font-size="13.5" fill="#7c8187" textLength="40.0" lengthAdjust="spacingAndGlyphs">3 m/s</text>
<path d="M1691.0 906.0 h8 m-3 -3 l3 3 l-3 3" fill="none" stroke="#999" stroke-width="1.5"/>
<rect x="143.0" y="1010.5" width="817.0" height="781.5" fill="#fff" stroke="#2b3234" stroke-width="2.8"/>
<rect x="211.0" y="1062.0" width="649.0" height="646.0" fill="url(#spk)"/>
<rect x="211.0" y="1062.0" width="649.0" height="646.0" fill="none" stroke="#b9bcc0" stroke-width="1.3"/>
<rect x="857.0" y="1705.0" width="4" height="4" fill="#444"/>
<clipPath id="cp3"><path d="M224.0 1077.5 L260.4 1071.0 L260.4 1081.0 L316.4 1071.0 L316.4 1081.0 L372.4 1071.0 L372.4 1081.0 L428.4 1071.0 L428.4 1081.0 L484.4 1071.0 L484.4 1081.0 L540.4 1071.0 L540.4 1081.0 L596.4 1071.0 L596.4 1081.0 L652.4 1071.0 L652.4 1081.0 L708.4 1071.0 L708.4 1081.0 L764.4 1071.0 L764.4 1081.0 L820.4 1071.0 L820.4 1081.0 L831.0 1079.1 L826.0 1073.0 L831.0 1101.0 L821.0 1101.0 L831.0 1157.0 L821.0 1157.0 L831.0 1213.0 L821.0 1213.0 L831.0 1269.0 L821.0 1269.0 L831.0 1325.0 L821.0 1325.0 L831.0 1381.0 L821.0 1381.0 L831.0 1437.0 L821.0 1437.0 L831.0 1493.0 L821.0 1493.0 L831.0 1549.0 L821.0 1549.0 L831.0 1605.0 L821.0 1605.0 L831.0 1661.0 L821.0 1661.0 L827.6 1698.0 L831.0 1690.0 L786.2 1698.0 L786.2 1688.0 L730.2 1698.0 L730.2 1688.0 L674.2 1698.0 L674.2 1688.0 L618.2 1698.0 L618.2 1688.0 L562.2 1698.0 L562.2 1688.0 L506.2 1698.0 L506.2 1688.0 L450.2 1698.0 L450.2 1688.0 L394.2 1698.0 L394.2 1688.0 L338.2 1698.0 L338.2 1688.0 L282.2 1698.0 L282.2 1688.0 L226.2 1698.0 L226.2 1688.0 L224.0 1688.4 L228.0 1696.0 L224.0 1673.6 L234.0 1673.6 L224.0 1617.6 L234.0 1617.6 L224.0 1561.6 L234.0 1561.6 L224.0 1505.6 L234.0 1505.6 L224.0 1449.6 L234.0 1449.6 L224.0 1393.6 L234.0 1393.6 L224.0 1337.6 L234.0 1337.6 L224.0 1281.6 L234.0 1281.6 L224.0 1225.6 L234.0 1225.6 L224.0 1169.6 L234.0 1169.6 L224.0 1113.6 L234.0 1113.6 L226.4 1071.0 Z"/></clipPath>
<g filter="url(#bl2)">
<g clip-path="url(#cp3)">
<g filter="url(#bl)">
<rect x="222.5" y="1068.5" width="205.0" height="27.5" fill="#2c72c9"/>
<rect x="426.5" y="1068.5" width="103.0" height="27.5" fill="#2a8cd6"/>
<rect x="528.5" y="1068.5" width="26.5" height="27.5" fill="#2fb8e2"/>
<rect x="554.0" y="1068.5" width="77.5" height="27.5" fill="#50c078"/>
<rect x="630.5" y="1068.5" width="103.0" height="27.5" fill="#2a8cd6"/>
<rect x="732.5" y="1068.5" width="26.5" height="27.5" fill="#2c72c9"/>
<rect x="758.0" y="1068.5" width="77.5" height="27.5" fill="#2a8cd6"/>
<rect x="222.5" y="1095.0" width="179.5" height="27.5" fill="#2c72c9"/>
<rect x="401.0" y="1095.0" width="26.5" height="27.5" fill="#2a8cd6"/>
<rect x="426.5" y="1095.0" width="103.0" height="27.5" fill="#2fb8e2"/>
<rect x="528.5" y="1095.0" width="77.5" height="27.5" fill="#50c078"/>
<rect x="605.0" y="1095.0" width="52.0" height="27.5" fill="#2fb8e2"/>
<rect x="656.0" y="1095.0" width="26.5" height="27.5" fill="#2a8cd6"/>
<rect x="681.5" y="1095.0" width="52.0" height="27.5" fill="#2c72c9"/>
<rect x="732.5" y="1095.0" width="26.5" height="27.5" fill="#2fb8e2"/>
<rect x="758.0" y="1095.0" width="77.5" height="27.5" fill="#2a8cd6"/>
<rect x="222.5" y="1121.5" width="77.5" height="27.5" fill="#2c72c9"/>
<rect x="299.0" y="1121.5" width="26.5" height="27.5" fill="#3340a6"/>
<rect x="324.5" y="1121.5" width="52.0" height="27.5" fill="#2c72c9"/>
<rect x="375.5" y="1121.5" width="26.5" height="27.5" fill="#2a8cd6"/>
<rect x="401.0" y="1121.5" width="103.0" height="27.5" fill="#2fb8e2"/>
<rect x="503.0" y="1121.5" width="26.5" height="27.5" fill="#50c078"/>
<rect x="528.5" y="1121.5" width="103.0" height="27.5" fill="#2fb8e2"/>
<rect x="630.5" y="1121.5" width="26.5" height="27.5" fill="#2a8cd6"/>
<rect x="656.0" y="1121.5" width="77.5" height="27.5" fill="#2c72c9"/>
<rect x="732.5" y="1121.5" width="52.0" height="27.5" fill="#2a8cd6"/>
<rect x="783.5" y="1121.5" width="26.5" height="27.5" fill="#2c72c9"/>
<rect x="809.0" y="1121.5" width="26.5" height="27.5" fill="#2a8cd6"/>
<rect x="222.5" y="1148.0" width="26.5" height="27.5" fill="#2c72c9"/>
<rect x="248.0" y="1148.0" width="26.5" height="27.5" fill="#2a8cd6"/>
<rect x="273.5" y="1148.0" width="26.5" height="27.5" fill="#2fb8e2"/>
<rect x="299.0" y="1148.0" width="26.5" height="27.5" fill="#2a8cd6"/>
<rect x="324.5" y="1148.0" width="52.0" height="27.5" fill="#2c72c9"/>
<rect x="375.5" y="1148.0" width="26.5" height="27.5" fill="#2a8cd6"/>
<rect x="401.0" y="1148.0" width="179.5" height="27.5" fill="#2fb8e2"/>
<rect x="579.5" y="1148.0" width="26.5" height="27.5" fill="#2a8cd6"/>
<rect x="605.0" y="1148.0" width="26.5" height="27.5" fill="#2c72c9"/>
<rect x="630.5" y="1148.0" width="52.0" height="27.5" fill="#3340a6"/>
<rect x="681.5" y="1148.0" width="52.0" height="27.5" fill="#2c72c9"/>
<rect x="732.5" y="1148.0" width="103.0" height="27.5" fill="#2a8cd6"/>
<rect x="222.5" y="1174.5" width="26.5" height="27.5" fill="#2c72c9"/>
<rect x="248.0" y="1174.5" width="26.5" height="27.5" fill="#2a8cd6"/>
<rect x="273.5" y="1174.5" width="26.5" height="27.5" fill="#2fb8e2"/>
<rect x="299.0" y="1174.5" width="103.0" height="27.5" fill="#2c72c9"/>
<rect x="401.0" y="1174.5" width="52.0" height="27.5" fill="#2a8cd6"/>
<rect x="452.0" y="1174.5" width="52.0" height="27.5" fill="#2fb8e2"/>
<rect x="503.0" y="1174.5" width="26.5" height="27.5" fill="#2a8cd6"/>
<rect x="528.5" y="1174.5" width="26.5" height="27.5" fill="#2c72c9"/>
<rect x="554.0" y="1174.5" width="52.0" height="27.5" fill="#3340a6"/>
<rect x="605.0" y="1174.5" width="26.5" height="27.5" fill="#2c72c9"/>
<rect x="630.5" y="1174.5" width="52.0" height="27.5" fill="#3340a6"/>
<rect x="681.5" y="1174.5" width="77.5" height="27.5" fill="#2c72c9"/>
<rect x="758.0" y="1174.5" width="77.5" height="27.5" fill="#2a8cd6"/>
<rect x="222.5" y="1201.0" width="26.5" height="27.5" fill="#2c72c9"/>
<rect x="248.0" y="1201.0" width="52.0" height="27.5" fill="#2fb8e2"/>
<rect x="299.0" y="1201.0" width="128.5" height="27.5" fill="#2c72c9"/>
<rect x="426.5" y="1201.0" width="52.0" height="27.5" fill="#2a8cd6"/>
<rect x="477.5" y="1201.0" width="26.5" height="27.5" fill="#2c72c9"/>
<rect x="503.0" y="1201.0" width="179.5" height="27.5" fill="#3340a6"/>
<rect x="681.5" y="1201.0" width="26.5" height="27.5" fill="#2c72c9"/>
<rect x="707.0" y="1201.0" width="26.5" height="27.5" fill="#2a8cd6"/>
<rect x="732.5" y="1201.0" width="26.5" height="27.5" fill="#2fb8e2"/>
<rect x="758.0" y="1201.0" width="77.5" height="27.5" fill="#50c078"/>
<rect x="222.5" y="1227.5" width="52.0" height="27.5" fill="#2c72c9"/>
<rect x="273.5" y="1227.5" width="26.5" height="27.5" fill="#3340a6"/>
<rect x="299.0" y="1227.5" width="103.0" height="27.5" fill="#2c72c9"/>
<rect x="401.0" y="1227.5" width="256.0" height="27.5" fill="#3340a6"/>
<rect x="656.0" y="1227.5" width="26.5" height="27.5" fill="#2c72c9"/>
<rect x="681.5" y="1227.5" width="26.5" height="27.5" fill="#2a8cd6"/>
<rect x="707.0" y="1227.5" width="26.5" height="27.5" fill="#2fb8e2"/>
<rect x="732.5" y="1227.5" width="52.0" height="27.5" fill="#50c078"/>
<rect x="783.5" y="1227.5" width="52.0" height="27.5" fill="#f2e732"/>
<rect x="222.5" y="1254.0" width="128.5" height="27.5" fill="#2c72c9"/>
<rect x="350.0" y="1254.0" width="26.5" height="27.5" fill="#3340a6"/>
<rect x="375.5" y="1254.0" width="26.5" height="27.5" fill="#2a8cd6"/>
<rect x="401.0" y="1254.0" width="230.5" height="27.5" fill="#3340a6"/>
<rect x="630.5" y="1254.0" width="26.5" height="27.5" fill="#2c72c9"/>
<rect x="656.0" y="1254.0" width="52.0" height="27.5" fill="#2a8cd6"/>
<rect x="707.0" y="1254.0" width="26.5" height="27.5" fill="#50c078"/>
<rect x="732.5" y="1254.0" width="103.0" height="27.5" fill="#f2e732"/>
<rect x="222.5" y="1280.5" width="128.5" height="27.5" fill="#2c72c9"/>
<rect x="350.0" y="1280.5" width="26.5" height="27.5" fill="#2a8cd6"/>
<rect x="375.5" y="1280.5" width="52.0" height="27.5" fill="#2c72c9"/>
<rect x="426.5" y="1280.5" width="26.5" height="27.5" fill="#2a8cd6"/>
<rect x="452.0" y="1280.5" width="52.0" height="27.5" fill="#2fb8e2"/>
<rect x="503.0" y="1280.5" width="103.0" height="27.5" fill="#3340a6"/>
<rect x="605.0" y="1280.5" width="26.5" height="27.5" fill="#2c72c9"/>
<rect x="630.5" y="1280.5" width="26.5" height="27.5" fill="#2a8cd6"/>
<rect x="656.0" y="1280.5" width="52.0" height="27.5" fill="#2fb8e2"/>
<rect x="707.0" y="1280.5" width="52.0" height="27.5" fill="#50c078"/>
<rect x="758.0" y="1280.5" width="77.5" height="27.5" fill="#f2e732"/>
<rect x="222.5" y="1307.0" width="26.5" height="27.5" fill="#2c72c9"/>
<rect x="248.0" y="1307.0" width="52.0" height="27.5" fill="#2a8cd6"/>
<rect x="299.0" y="1307.0" width="26.5" height="27.5" fill="#2c72c9"/>
<rect x="324.5" y="1307.0" width="52.0" height="27.5" fill="#2a8cd6"/>
<rect x="375.5" y="1307.0" width="52.0" height="27.5" fill="#2c72c9"/>
<rect x="426.5" y="1307.0" width="77.5" height="27.5" fill="#2fb8e2"/>
<rect x="503.0" y="1307.0" width="52.0" height="27.5" fill="#3340a6"/>
<rect x="554.0" y="1307.0" width="52.0" height="27.5" fill="#2c72c9"/>
<rect x="605.0" y="1307.0" width="52.0" height="27.5" fill="#2a8cd6"/>
<rect x="656.0" y="1307.0" width="52.0" height="27.5" fill="#2fb8e2"/>
<rect x="707.0" y="1307.0" width="128.5" height="27.5" fill="#50c078"/>
<rect x="222.5" y="1333.5" width="26.5" height="27.5" fill="#2c72c9"/>
<rect x="248.0" y="1333.5" width="26.5" height="27.5" fill="#2a8cd6"/>
<rect x="273.5" y="1333.5" width="26.5" height="27.5" fill="#2fb8e2"/>
<rect x="299.0" y="1333.5" width="103.0" height="27.5" fill="#2a8cd6"/>
<rect x="401.0" y="1333.5" width="26.5" height="27.5" fill="#2c72c9"/>
<rect x="426.5" y="1333.5" width="77.5" height="27.5" fill="#2fb8e2"/>
<rect x="503.0" y="1333.5" width="26.5" height="27.5" fill="#3340a6"/>
<rect x="528.5" y="1333.5" width="26.5" height="27.5" fill="#2c72c9"/>
<rect x="554.0" y="1333.5" width="77.5" height="27.5" fill="#2a8cd6"/>
<rect x="630.5" y="1333.5" width="179.5" height="27.5" fill="#2fb8e2"/>
<rect x="809.0" y="1333.5" width="26.5" height="27.5" fill="#2a8cd6"/>
<rect x="222.5" y="1360.0" width="26.5" height="27.5" fill="#2c72c9"/>
<rect x="248.0" y="1360.0" width="26.5" height="27.5" fill="#2a8cd6"/>
<rect x="273.5" y="1360.0" width="26.5" height="27.5" fill="#2fb8e2"/>
<rect x="299.0" y="1360.0" width="26.5" height="27.5" fill="#2a8cd6"/>
<rect x="324.5" y="1360.0" width="52.0" height="27.5" fill="#2fb8e2"/>
<rect x="375.5" y="1360.0" width="26.5" height="27.5" fill="#2a8cd6"/>
<rect x="401.0" y="1360.0" width="26.5" height="27.5" fill="#2c72c9"/>
<rect x="426.5" y="1360.0" width="26.5" height="27.5" fill="#3340a6"/>
<rect x="452.0" y="1360.0" width="26.5" height="27.5" fill="#2c72c9"/>
<rect x="477.5" y="1360.0" width="26.5" height="27.5" fill="#2a8cd6"/>
<rect x="503.0" y="1360.0" width="26.5" height="27.5" fill="#3340a6"/>
<rect x="528.5" y="1360.0" width="26.5" height="27.5" fill="#2c72c9"/>
<rect x="554.0" y="1360.0" width="52.0" height="27.5" fill="#2a8cd6"/>
<rect x="605.0" y="1360.0" width="154.0" height="27.5" fill="#2fb8e2"/>
<rect x="758.0" y="1360.0" width="26.5" height="27.5" fill="#2a8cd6"/>
<rect x="783.5" y="1360.0" width="26.5" height="27.5" fill="#2fb8e2"/>
<rect x="809.0" y="1360.0" width="26.5" height="27.5" fill="#2a8cd6"/>
<rect x="222.5" y="1386.5" width="26.5" height="27.5" fill="#2c72c9"/>
<rect x="248.0" y="1386.5" width="26.5" height="27.5" fill="#2a8cd6"/>
<rect x="273.5" y="1386.5" width="26.5" height="27.5" fill="#2fb8e2"/>
<rect x="299.0" y="1386.5" width="52.0" height="27.5" fill="#2c72c9"/>
<rect x="350.0" y="1386.5" width="26.5" height="27.5" fill="#2fb8e2"/>
<rect x="375.5" y="1386.5" width="26.5" height="27.5" fill="#2a8cd6"/>
<rect x="401.0" y="1386.5" width="128.5" height="27.5" fill="#3340a6"/>
<rect x="528.5" y="1386.5" width="26.5" height="27.5" fill="#2c72c9"/>
<rect x="554.0" y="1386.5" width="26.5" height="27.5" fill="#2a8cd6"/>
<rect x="579.5" y="1386.5" width="26.5" height="27.5" fill="#2c72c9"/>
<rect x="605.0" y="1386.5" width="52.0" height="27.5" fill="#2a8cd6"/>
<rect x="656.0" y="1386.5" width="52.0" height="27.5" fill="#2fb8e2"/>
<rect x="707.0" y="1386.5" width="26.5" height="27.5" fill="#50c078"/>
<rect x="732.5" y="1386.5" width="26.5" height="27.5" fill="#2fb8e2"/>
<rect x="758.0" y="1386.5" width="52.0" height="27.5" fill="#2a8cd6"/>
<rect x="809.0" y="1386.5" width="26.5" height="27.5" fill="#50c078"/>
<rect x="222.5" y="1413.0" width="52.0" height="27.5" fill="#2c72c9"/>
<rect x="273.5" y="1413.0" width="77.5" height="27.5" fill="#2a8cd6"/>
<rect x="350.0" y="1413.0" width="26.5" height="27.5" fill="#2c72c9"/>
<rect x="375.5" y="1413.0" width="154.0" height="27.5" fill="#3340a6"/>
<rect x="528.5" y="1413.0" width="26.5" height="27.5" fill="#2c72c9"/>
<rect x="554.0" y="1413.0" width="77.5" height="27.5" fill="#2a8cd6"/>
<rect x="630.5" y="1413.0" width="26.5" height="27.5" fill="#2fb8e2"/>
<rect x="656.0" y="1413.0" width="77.5" height="27.5" fill="#50c078"/>
<rect x="732.5" y="1413.0" width="103.0" height="27.5" fill="#2a8cd6"/>
<rect x="222.5" y="1439.5" width="26.5" height="27.5" fill="#2a8cd6"/>
<rect x="248.0" y="1439.5" width="26.5" height="27.5" fill="#3340a6"/>
<rect x="273.5" y="1439.5" width="77.5" height="27.5" fill="#2a8cd6"/>
<rect x="350.0" y="1439.5" width="26.5" height="27.5" fill="#2c72c9"/>
<rect x="375.5" y="1439.5" width="179.5" height="27.5" fill="#3340a6"/>
<rect x="554.0" y="1439.5" width="26.5" height="27.5" fill="#2c72c9"/>
<rect x="579.5" y="1439.5" width="52.0" height="27.5" fill="#2a8cd6"/>
<rect x="630.5" y="1439.5" width="52.0" height="27.5" fill="#50c078"/>
<rect x="681.5" y="1439.5" width="26.5" height="27.5" fill="#2a8cd6"/>
<rect x="707.0" y="1439.5" width="77.5" height="27.5" fill="#50c078"/>
<rect x="783.5" y="1439.5" width="26.5" height="27.5" fill="#2a8cd6"/>
<rect x="809.0" y="1439.5" width="26.5" height="27.5" fill="#50c078"/>
<rect x="222.5" y="1466.0" width="26.5" height="27.5" fill="#2a8cd6"/>
<rect x="248.0" y="1466.0" width="26.5" height="27.5" fill="#2c72c9"/>
<rect x="273.5" y="1466.0" width="52.0" height="27.5" fill="#2a8cd6"/>
<rect x="324.5" y="1466.0" width="26.5" height="27.5" fill="#2c72c9"/>
<rect x="350.0" y="1466.0" width="230.5" height="27.5" fill="#3340a6"/>
<rect x="579.5" y="1466.0" width="26.5" height="27.5" fill="#2c72c9"/>
<rect x="605.0" y="1466.0" width="26.5" height="27.5" fill="#2a8cd6"/>
<rect x="630.5" y="1466.0" width="52.0" height="27.5" fill="#50c078"/>
<rect x="681.5" y="1466.0" width="26.5" height="27.5" fill="#2fb8e2"/>
<rect x="707.0" y="1466.0" width="26.5" height="27.5" fill="#50c078"/>
<rect x="732.5" y="1466.0" width="26.5" height="27.5" fill="#2a8cd6"/>
<rect x="758.0" y="1466.0" width="77.5" height="27.5" fill="#3340a6"/>
<rect x="222.5" y="1492.5" width="52.0" height="27.5" fill="#2a8cd6"/>
<rect x="273.5" y="1492.5" width="26.5" height="27.5" fill="#2fb8e2"/>
<rect x="299.0" y="1492.5" width="26.5" height="27.5" fill="#2a8cd6"/>
<rect x="324.5" y="1492.5" width="256.0" height="27.5" fill="#3340a6"/>
<rect x="579.5" y="1492.5" width="26.5" height="27.5" fill="#2a8cd6"/>
<rect x="605.0" y="1492.5" width="26.5" height="27.5" fill="#2fb8e2"/>
<rect x="630.5" y="1492.5" width="26.5" height="27.5" fill="#50c078"/>
<rect x="656.0" y="1492.5" width="26.5" height="27.5" fill="#3340a6"/>
<rect x="681.5" y="1492.5" width="26.5" height="27.5" fill="#2a8cd6"/>
<rect x="707.0" y="1492.5" width="52.0" height="27.5" fill="#2fb8e2"/>
<rect x="758.0" y="1492.5" width="77.5" height="27.5" fill="#3340a6"/>
<rect x="222.5" y="1519.0" width="26.5" height="27.5" fill="#2a8cd6"/>
<rect x="248.0" y="1519.0" width="52.0" height="27.5" fill="#2fb8e2"/>
<rect x="299.0" y="1519.0" width="26.5" height="27.5" fill="#2a8cd6"/>
<rect x="324.5" y="1519.0" width="52.0" height="27.5" fill="#2c72c9"/>
<rect x="375.5" y="1519.0" width="52.0" height="27.5" fill="#2a8cd6"/>
<rect x="426.5" y="1519.0" width="26.5" height="27.5" fill="#2c72c9"/>
<rect x="452.0" y="1519.0" width="77.5" height="27.5" fill="#3340a6"/>
<rect x="528.5" y="1519.0" width="26.5" height="27.5" fill="#2c72c9"/>
<rect x="554.0" y="1519.0" width="26.5" height="27.5" fill="#2a8cd6"/>
<rect x="579.5" y="1519.0" width="26.5" height="27.5" fill="#2fb8e2"/>
<rect x="605.0" y="1519.0" width="26.5" height="27.5" fill="#2a8cd6"/>
<rect x="630.5" y="1519.0" width="26.5" height="27.5" fill="#50c078"/>
<rect x="656.0" y="1519.0" width="26.5" height="27.5" fill="#3340a6"/>
<rect x="681.5" y="1519.0" width="52.0" height="27.5" fill="#2c72c9"/>
<rect x="732.5" y="1519.0" width="103.0" height="27.5" fill="#3340a6"/>
<rect x="222.5" y="1545.5" width="77.5" height="27.5" fill="#2a8cd6"/>
<rect x="299.0" y="1545.5" width="26.5" height="27.5" fill="#2fb8e2"/>
<rect x="324.5" y="1545.5" width="26.5" height="27.5" fill="#2c72c9"/>
<rect x="350.0" y="1545.5" width="77.5" height="27.5" fill="#2a8cd6"/>
<rect x="426.5" y="1545.5" width="26.5" height="27.5" fill="#2c72c9"/>
<rect x="452.0" y="1545.5" width="26.5" height="27.5" fill="#3340a6"/>
<rect x="477.5" y="1545.5" width="26.5" height="27.5" fill="#2c72c9"/>
<rect x="503.0" y="1545.5" width="26.5" height="27.5" fill="#2a8cd6"/>
<rect x="528.5" y="1545.5" width="52.0" height="27.5" fill="#2fb8e2"/>
<rect x="579.5" y="1545.5" width="52.0" height="27.5" fill="#50c078"/>
<rect x="630.5" y="1545.5" width="52.0" height="27.5" fill="#3340a6"/>
<rect x="681.5" y="1545.5" width="52.0" height="27.5" fill="#2c72c9"/>
<rect x="732.5" y="1545.5" width="77.5" height="27.5" fill="#3340a6"/>
<rect x="809.0" y="1545.5" width="26.5" height="27.5" fill="#2c72c9"/>
<rect x="222.5" y="1572.0" width="26.5" height="27.5" fill="#3340a6"/>
<rect x="248.0" y="1572.0" width="26.5" height="27.5" fill="#2a8cd6"/>
<rect x="273.5" y="1572.0" width="26.5" height="27.5" fill="#2fb8e2"/>
<rect x="299.0" y="1572.0" width="26.5" height="27.5" fill="#2a8cd6"/>
<rect x="324.5" y="1572.0" width="179.5" height="27.5" fill="#3340a6"/>
<rect x="503.0" y="1572.0" width="103.0" height="27.5" fill="#2a8cd6"/>
<rect x="605.0" y="1572.0" width="26.5" height="27.5" fill="#2c72c9"/>
<rect x="630.5" y="1572.0" width="52.0" height="27.5" fill="#3340a6"/>
<rect x="681.5" y="1572.0" width="26.5" height="27.5" fill="#2c72c9"/>
<rect x="707.0" y="1572.0" width="52.0" height="27.5" fill="#2a8cd6"/>
<rect x="758.0" y="1572.0" width="26.5" height="27.5" fill="#2c72c9"/>
<rect x="783.5" y="1572.0" width="52.0" height="27.5" fill="#2a2880"/>
<rect x="222.5" y="1598.5" width="26.5" height="27.5" fill="#2a8cd6"/>
<rect x="248.0" y="1598.5" width="26.5" height="27.5" fill="#2fb8e2"/>
<rect x="273.5" y="1598.5" width="77.5" height="27.5" fill="#2c72c9"/>
<rect x="350.0" y="1598.5" width="103.0" height="27.5" fill="#3340a6"/>
<rect x="452.0" y="1598.5" width="26.5" height="27.5" fill="#2c72c9"/>
<rect x="477.5" y="1598.5" width="26.5" height="27.5" fill="#2a8cd6"/>
<rect x="503.0" y="1598.5" width="26.5" height="27.5" fill="#2fb8e2"/>
<rect x="528.5" y="1598.5" width="26.5" height="27.5" fill="#2c72c9"/>
<rect x="554.0" y="1598.5" width="77.5" height="27.5" fill="#2a8cd6"/>
<rect x="630.5" y="1598.5" width="26.5" height="27.5" fill="#2c72c9"/>
<rect x="656.0" y="1598.5" width="26.5" height="27.5" fill="#3340a6"/>
<rect x="681.5" y="1598.5" width="52.0" height="27.5" fill="#2c72c9"/>
<rect x="732.5" y="1598.5" width="103.0" height="27.5" fill="#3340a6"/>
<rect x="222.5" y="1625.0" width="52.0" height="27.5" fill="#2a8cd6"/>
<rect x="273.5" y="1625.0" width="26.5" height="27.5" fill="#2c72c9"/>
<rect x="299.0" y="1625.0" width="26.5" height="27.5" fill="#2a8cd6"/>
<rect x="324.5" y="1625.0" width="26.5" height="27.5" fill="#2c72c9"/>
<rect x="350.0" y="1625.0" width="77.5" height="27.5" fill="#3340a6"/>
<rect x="426.5" y="1625.0" width="52.0" height="27.5" fill="#2c72c9"/>
<rect x="477.5" y="1625.0" width="52.0" height="27.5" fill="#2a8cd6"/>
<rect x="528.5" y="1625.0" width="26.5" height="27.5" fill="#3340a6"/>
<rect x="554.0" y="1625.0" width="77.5" height="27.5" fill="#2fb8e2"/>
<rect x="630.5" y="1625.0" width="26.5" height="27.5" fill="#2a8cd6"/>
<rect x="656.0" y="1625.0" width="52.0" height="27.5" fill="#2c72c9"/>
<rect x="707.0" y="1625.0" width="52.0" height="27.5" fill="#2a8cd6"/>
<rect x="758.0" y="1625.0" width="26.5" height="27.5" fill="#2c72c9"/>
<rect x="783.5" y="1625.0" width="52.0" height="27.5" fill="#3340a6"/>
<rect x="222.5" y="1651.5" width="26.5" height="27.5" fill="#2a8cd6"/>
<rect x="248.0" y="1651.5" width="52.0" height="27.5" fill="#3340a6"/>
<rect x="299.0" y="1651.5" width="26.5" height="27.5" fill="#2c72c9"/>
<rect x="324.5" y="1651.5" width="52.0" height="27.5" fill="#2fb8e2"/>
<rect x="375.5" y="1651.5" width="52.0" height="27.5" fill="#2c72c9"/>
<rect x="426.5" y="1651.5" width="52.0" height="27.5" fill="#3340a6"/>
<rect x="477.5" y="1651.5" width="26.5" height="27.5" fill="#2c72c9"/>
<rect x="503.0" y="1651.5" width="52.0" height="27.5" fill="#2a8cd6"/>
<rect x="554.0" y="1651.5" width="26.5" height="27.5" fill="#2fb8e2"/>
<rect x="579.5" y="1651.5" width="52.0" height="27.5" fill="#2a8cd6"/>
<rect x="630.5" y="1651.5" width="52.0" height="27.5" fill="#2c72c9"/>
<rect x="681.5" y="1651.5" width="77.5" height="27.5" fill="#2a8cd6"/>
<rect x="758.0" y="1651.5" width="26.5" height="27.5" fill="#2c72c9"/>
<rect x="783.5" y="1651.5" width="52.0" height="27.5" fill="#3340a6"/>
<rect x="222.5" y="1678.0" width="26.5" height="27.5" fill="#2a8cd6"/>
<rect x="248.0" y="1678.0" width="26.5" height="27.5" fill="#2c72c9"/>
<rect x="273.5" y="1678.0" width="26.5" height="27.5" fill="#3340a6"/>
<rect x="299.0" y="1678.0" width="26.5" height="27.5" fill="#2c72c9"/>
<rect x="324.5" y="1678.0" width="52.0" height="27.5" fill="#2a8cd6"/>
<rect x="375.5" y="1678.0" width="26.5" height="27.5" fill="#2c72c9"/>
<rect x="401.0" y="1678.0" width="52.0" height="27.5" fill="#3340a6"/>
<rect x="452.0" y="1678.0" width="26.5" height="27.5" fill="#2c72c9"/>
<rect x="477.5" y="1678.0" width="52.0" height="27.5" fill="#2a8cd6"/>
<rect x="528.5" y="1678.0" width="52.0" height="27.5" fill="#2fb8e2"/>
<rect x="579.5" y="1678.0" width="52.0" height="27.5" fill="#2a8cd6"/>
<rect x="630.5" y="1678.0" width="103.0" height="27.5" fill="#2c72c9"/>
<rect x="732.5" y="1678.0" width="26.5" height="27.5" fill="#2a8cd6"/>
<rect x="758.0" y="1678.0" width="26.5" height="27.5" fill="#2c72c9"/>
<rect x="783.5" y="1678.0" width="26.5" height="27.5" fill="#3340a6"/>
<rect x="809.0" y="1678.0" width="26.5" height="27.5" fill="#2c72c9"/>
<circle cx="388.8" cy="1267.8" r="10.0" fill="#50c078"/>
<circle cx="363.2" cy="1294.2" r="10.0" fill="#50c078"/>
<circle cx="388.8" cy="1347.2" r="10.0" fill="#50c078"/>
<circle cx="388.8" cy="1373.8" r="10.0" fill="#50c078"/>
<circle cx="388.8" cy="1400.2" r="10.0" fill="#50c078"/>
<circle cx="337.8" cy="1426.8" r="10.0" fill="#50c078"/>
<ellipse cx="822.2" cy="1426.8" rx="18.8" ry="12.8" fill="#50c078" transform="rotate(-35 822.2 1426.8)"/>
<circle cx="822.2" cy="1426.8" r="9.5" fill="#f2e732"/>
<circle cx="312.2" cy="1453.2" r="10.0" fill="#50c078"/>
<ellipse cx="694.8" cy="1453.2" rx="18.8" ry="12.8" fill="#50c078" transform="rotate(-35 694.8 1453.2)"/>
<circle cx="694.8" cy="1453.2" r="9.5" fill="#f2e732"/>
<ellipse cx="796.8" cy="1453.2" rx="18.8" ry="12.8" fill="#50c078" transform="rotate(-35 796.8 1453.2)"/>
<circle cx="796.8" cy="1453.2" r="9.5" fill="#f2e732"/>
<circle cx="312.2" cy="1479.8" r="10.0" fill="#50c078"/>
<ellipse cx="745.8" cy="1479.8" rx="18.8" ry="12.8" fill="#50c078" transform="rotate(-35 745.8 1479.8)"/>
<circle cx="745.8" cy="1479.8" r="9.5" fill="#f2e732"/>
<circle cx="312.2" cy="1506.2" r="10.0" fill="#50c078"/>
<ellipse cx="312.2" cy="1532.8" rx="18.8" ry="12.8" fill="#50c078" transform="rotate(-35 312.2 1532.8)"/>
<circle cx="312.2" cy="1532.8" r="9.5" fill="#f2e732"/>
<ellipse cx="618.2" cy="1532.8" rx="18.8" ry="12.8" fill="#50c078" transform="rotate(-35 618.2 1532.8)"/>
<circle cx="618.2" cy="1532.8" r="9.5" fill="#f2e732"/>
<ellipse cx="286.8" cy="1559.2" rx="18.8" ry="12.8" fill="#50c078" transform="rotate(-35 286.8 1559.2)"/>
<circle cx="286.8" cy="1559.2" r="9.5" fill="#f2e732"/>
<circle cx="261.2" cy="1585.8" r="10.0" fill="#50c078"/>
</g>
<rect x="214.0" y="1061.0" width="627.0" height="647.0" fill="url(#dots)"/>
</g>
</g>
<polyline points="861.0,1299.0 720.0,1410.0" fill="none" stroke="#0a0a14" stroke-width="3.4"/>
<polyline points="720.0,1410.0 432.5,1637.5" fill="none" stroke="#0a0a14" stroke-width="3.4" stroke-dasharray="9 5"/>
<polyline points="432.5,1637.5 230.0,1641.0" fill="none" stroke="#0a0a14" stroke-width="3.4" stroke-dasharray="26 4 12 6"/>
<polyline points="326.0,1085.0 315.0,1179.0 305.0,1255.0 301.0,1368.0 294.0,1392.0 281.0,1437.0 271.0,1475.0 262.0,1516.0 256.0,1554.0 248.0,1573.0 235.0,1610.0 230.0,1637.0" fill="none" stroke="#0b1238" stroke-width="2.8" stroke-dasharray="6 9" opacity="0.78"/>
<polyline points="230.0,1641.0 236.0,1661.0 245.0,1683.0" fill="none" stroke="#0a0a14" stroke-width="3.2" stroke-dasharray="7 8" opacity="0.8"/>
<polyline points="719.0,1409.0 730.0,1441.0 747.0,1459.0 762.0,1473.0 775.0,1478.0 794.0,1482.0 824.0,1482.0" fill="none" stroke="#0a0a14" stroke-width="3.2" stroke-dasharray="7 7" opacity="0.8"/>
<polygon points="824.0,1476.0 850.0,1475.0 858.0,1485.0 859.0,1531.0 846.0,1534.0 828.0,1521.0" fill="none" stroke="#111" stroke-width="3.2" stroke-dasharray="6 6" opacity="0.85"/>
<text x="286.0" y="1057.0" font-size="26" font-weight="bold" fill="#0a0a0a" stroke="#0a0a0a" stroke-width="0.7" textLength="536.0" lengthAdjust="spacingAndGlyphs">Modell: KAMM - TRACT: 16.09.1992, 11 UTC</text>
<rect x="311.0" y="1736.0" width="20.0" height="12.0" fill="#2c2c8c"/>
<rect x="350.0" y="1736.0" width="20.0" height="12.0" fill="#2f3d9b"/>
<rect x="390.0" y="1736.0" width="20.0" height="12.0" fill="#2a4aaa"/>
<rect x="429.6" y="1736.0" width="20.0" height="12.0" fill="#1f8fd6"/>
<rect x="468.0" y="1736.0" width="20.0" height="12.0" fill="#4cc0da"/>
<rect x="511.0" y="1736.0" width="20.0" height="12.0" fill="#6fd08c"/>
<rect x="551.6" y="1736.0" width="20.0" height="12.0" fill="#f6f040"/>
<rect x="598.0" y="1736.0" width="20.0" height="12.0" fill="#f4e838"/>
<rect x="648.5" y="1736.0" width="20.0" height="12.0" fill="#f04a28"/>
<rect x="694.6" y="1736.0" width="20.0" height="12.0" fill="#ee2a2a"/>
<text x="216.0" y="1766.0" font-size="13.5" fill="#7c8187" textLength="53.0" lengthAdjust="spacingAndGlyphs">Z<tspan font-size="9" dy="3">i</tspan><tspan dy="-3"> in m</tspan></text>
<text x="326.0" y="1766.0" font-size="13.5" fill="#7c8187" textLength="26.0" lengthAdjust="spacingAndGlyphs">160</text>
<text x="368.0" y="1766.0" font-size="13.5" fill="#7c8187" textLength="26.0" lengthAdjust="spacingAndGlyphs">320</text>
<text x="405.0" y="1766.0" font-size="13.5" fill="#7c8187" textLength="26.0" lengthAdjust="spacingAndGlyphs">480</text>
<text x="439.0" y="1766.0" font-size="13.5" fill="#7c8187" textLength="29.0" lengthAdjust="spacingAndGlyphs">640</text>
<text x="486.0" y="1766.0" font-size="13.5" fill="#7c8187" textLength="29.0" lengthAdjust="spacingAndGlyphs">800</text>
<text x="528.0" y="1766.0" font-size="13.5" fill="#7c8187" textLength="26.0" lengthAdjust="spacingAndGlyphs">960</text>
<text x="570.0" y="1766.0" font-size="13.5" fill="#7c8187" textLength="34.0" lengthAdjust="spacingAndGlyphs">1120</text>
<text x="614.0" y="1766.0" font-size="13.5" fill="#7c8187" textLength="34.0" lengthAdjust="spacingAndGlyphs">1280</text>
<text x="664.0" y="1766.0" font-size="13.5" fill="#7c8187" textLength="34.0" lengthAdjust="spacingAndGlyphs">1440</text>
<text x="820.0" y="1766.0" font-size="13.5" fill="#7c8187" textLength="39.0" lengthAdjust="spacingAndGlyphs">3 m/s</text>
<path d="M828.0 1741.0 h8 m-3 -3 l3 3 l-3 3" fill="none" stroke="#999" stroke-width="1.5"/>
<rect x="1006.8" y="1011.5" width="813.2" height="783.5" fill="#fff" stroke="#2b3234" stroke-width="2.8"/>
<rect x="1071.0" y="1063.0" width="649.6" height="646.6" fill="url(#spk)"/>
<rect x="1071.0" y="1063.0" width="649.6" height="646.6" fill="none" stroke="#b9bcc0" stroke-width="1.3"/>
<rect x="1717.6" y="1706.6" width="4" height="4" fill="#444"/>
<clipPath id="cp4"><path d="M1084.0 1077.5 L1120.4 1071.0 L1120.4 1081.0 L1176.4 1071.0 L1176.4 1081.0 L1232.4 1071.0 L1232.4 1081.0 L1288.4 1071.0 L1288.4 1081.0 L1344.4 1071.0 L1344.4 1081.0 L1400.4 1071.0 L1400.4 1081.0 L1456.4 1071.0 L1456.4 1081.0 L1512.4 1071.0 L1512.4 1081.0 L1568.4 1071.0 L1568.4 1081.0 L1624.4 1071.0 L1624.4 1081.0 L1680.4 1071.0 L1680.4 1081.0 L1691.0 1079.1 L1686.0 1073.0 L1691.0 1101.0 L1681.0 1101.0 L1691.0 1157.0 L1681.0 1157.0 L1691.0 1213.0 L1681.0 1213.0 L1691.0 1269.0 L1681.0 1269.0 L1691.0 1325.0 L1681.0 1325.0 L1691.0 1381.0 L1681.0 1381.0 L1691.0 1437.0 L1681.0 1437.0 L1691.0 1493.0 L1681.0 1493.0 L1691.0 1549.0 L1681.0 1549.0 L1691.0 1605.0 L1681.0 1605.0 L1691.0 1661.0 L1681.0 1661.0 L1687.6 1698.0 L1691.0 1690.0 L1646.2 1698.0 L1646.2 1688.0 L1590.2 1698.0 L1590.2 1688.0 L1534.2 1698.0 L1534.2 1688.0 L1478.2 1698.0 L1478.2 1688.0 L1422.2 1698.0 L1422.2 1688.0 L1366.2 1698.0 L1366.2 1688.0 L1310.2 1698.0 L1310.2 1688.0 L1254.2 1698.0 L1254.2 1688.0 L1198.2 1698.0 L1198.2 1688.0 L1142.2 1698.0 L1142.2 1688.0 L1086.2 1698.0 L1086.2 1688.0 L1084.0 1688.4 L1088.0 1696.0 L1084.0 1673.6 L1094.0 1673.6 L1084.0 1617.6 L1094.0 1617.6 L1084.0 1561.6 L1094.0 1561.6 L1084.0 1505.6 L1094.0 1505.6 L1084.0 1449.6 L1094.0 1449.6 L1084.0 1393.6 L1094.0 1393.6 L1084.0 1337.6 L1094.0 1337.6 L1084.0 1281.6 L1094.0 1281.6 L1084.0 1225.6 L1094.0 1225.6 L1084.0 1169.6 L1094.0 1169.6 L1084.0 1113.6 L1094.0 1113.6 L1086.4 1071.0 Z"/></clipPath>
<g filter="url(#bl2)">
<g clip-path="url(#cp4)">
<g filter="url(#bl)">
<rect x="1082.5" y="1068.5" width="77.5" height="27.5" fill="#2a8cd6"/>
<rect x="1159.0" y="1068.5" width="26.5" height="27.5" fill="#50c078"/>
<rect x="1184.5" y="1068.5" width="179.5" height="27.5" fill="#2a8cd6"/>
<rect x="1363.0" y="1068.5" width="103.0" height="27.5" fill="#50c078"/>
<rect x="1465.0" y="1068.5" width="52.0" height="27.5" fill="#f2e732"/>
<rect x="1516.0" y="1068.5" width="179.5" height="27.5" fill="#50c078"/>
<rect x="1082.5" y="1095.0" width="52.0" height="27.5" fill="#2a8cd6"/>
<rect x="1133.5" y="1095.0" width="52.0" height="27.5" fill="#50c078"/>
<rect x="1184.5" y="1095.0" width="179.5" height="27.5" fill="#2a8cd6"/>
<rect x="1363.0" y="1095.0" width="52.0" height="27.5" fill="#50c078"/>
<rect x="1414.0" y="1095.0" width="103.0" height="27.5" fill="#f2e732"/>
<rect x="1516.0" y="1095.0" width="103.0" height="27.5" fill="#50c078"/>
<rect x="1618.0" y="1095.0" width="26.5" height="27.5" fill="#2a8cd6"/>
<rect x="1643.5" y="1095.0" width="52.0" height="27.5" fill="#50c078"/>
<rect x="1082.5" y="1121.5" width="230.5" height="27.5" fill="#2a8cd6"/>
<rect x="1312.0" y="1121.5" width="103.0" height="27.5" fill="#50c078"/>
<rect x="1414.0" y="1121.5" width="77.5" height="27.5" fill="#f2e732"/>
<rect x="1490.5" y="1121.5" width="26.5" height="27.5" fill="#50c078"/>
<rect x="1516.0" y="1121.5" width="128.5" height="27.5" fill="#2a8cd6"/>
<rect x="1643.5" y="1121.5" width="52.0" height="27.5" fill="#50c078"/>
<rect x="1082.5" y="1148.0" width="205.0" height="27.5" fill="#2a8cd6"/>
<rect x="1286.5" y="1148.0" width="205.0" height="27.5" fill="#50c078"/>
<rect x="1490.5" y="1148.0" width="26.5" height="27.5" fill="#2a8cd6"/>
<rect x="1516.0" y="1148.0" width="77.5" height="27.5" fill="#2c72c9"/>
<rect x="1592.5" y="1148.0" width="52.0" height="27.5" fill="#2a8cd6"/>
<rect x="1643.5" y="1148.0" width="52.0" height="27.5" fill="#50c078"/>
<rect x="1082.5" y="1174.5" width="179.5" height="27.5" fill="#2a8cd6"/>
<rect x="1261.0" y="1174.5" width="205.0" height="27.5" fill="#50c078"/>
<rect x="1465.0" y="1174.5" width="26.5" height="27.5" fill="#2a8cd6"/>
<rect x="1490.5" y="1174.5" width="26.5" height="27.5" fill="#2c72c9"/>
<rect x="1516.0" y="1174.5" width="52.0" height="27.5" fill="#3340a6"/>
<rect x="1567.0" y="1174.5" width="52.0" height="27.5" fill="#2a8cd6"/>
<rect x="1618.0" y="1174.5" width="26.5" height="27.5" fill="#2fb8e2"/>
<rect x="1643.5" y="1174.5" width="52.0" height="27.5" fill="#50c078"/>
<rect x="1082.5" y="1201.0" width="205.0" height="27.5" fill="#2a8cd6"/>
<rect x="1286.5" y="1201.0" width="26.5" height="27.5" fill="#2fb8e2"/>
<rect x="1312.0" y="1201.0" width="103.0" height="27.5" fill="#50c078"/>
<rect x="1414.0" y="1201.0" width="26.5" height="27.5" fill="#2fb8e2"/>
<rect x="1439.5" y="1201.0" width="26.5" height="27.5" fill="#2a8cd6"/>
<rect x="1465.0" y="1201.0" width="26.5" height="27.5" fill="#2c72c9"/>
<rect x="1490.5" y="1201.0" width="52.0" height="27.5" fill="#3340a6"/>
<rect x="1541.5" y="1201.0" width="26.5" height="27.5" fill="#2a8cd6"/>
<rect x="1567.0" y="1201.0" width="26.5" height="27.5" fill="#2fb8e2"/>
<rect x="1592.5" y="1201.0" width="26.5" height="27.5" fill="#50c078"/>
<rect x="1618.0" y="1201.0" width="26.5" height="27.5" fill="#f2e732"/>
<rect x="1643.5" y="1201.0" width="52.0" height="27.5" fill="#50c078"/>
<rect x="1082.5" y="1227.5" width="128.5" height="27.5" fill="#2a8cd6"/>
<rect x="1210.0" y="1227.5" width="26.5" height="27.5" fill="#2c72c9"/>
<rect x="1235.5" y="1227.5" width="26.5" height="27.5" fill="#2a8cd6"/>
<rect x="1261.0" y="1227.5" width="52.0" height="27.5" fill="#50c078"/>
<rect x="1312.0" y="1227.5" width="26.5" height="27.5" fill="#3340a6"/>
<rect x="1337.5" y="1227.5" width="26.5" height="27.5" fill="#50c078"/>
<rect x="1363.0" y="1227.5" width="52.0" height="27.5" fill="#2fb8e2"/>
<rect x="1414.0" y="1227.5" width="26.5" height="27.5" fill="#2a8cd6"/>
<rect x="1439.5" y="1227.5" width="26.5" height="27.5" fill="#2c72c9"/>
<rect x="1465.0" y="1227.5" width="52.0" height="27.5" fill="#3340a6"/>
<rect x="1516.0" y="1227.5" width="26.5" height="27.5" fill="#2a8cd6"/>
<rect x="1541.5" y="1227.5" width="26.5" height="27.5" fill="#2fb8e2"/>
<rect x="1567.0" y="1227.5" width="26.5" height="27.5" fill="#50c078"/>
<rect x="1592.5" y="1227.5" width="52.0" height="27.5" fill="#f2e732"/>
<rect x="1643.5" y="1227.5" width="52.0" height="27.5" fill="#50c078"/>
<rect x="1082.5" y="1254.0" width="103.0" height="27.5" fill="#2a8cd6"/>
<rect x="1184.5" y="1254.0" width="52.0" height="27.5" fill="#2c72c9"/>
<rect x="1235.5" y="1254.0" width="77.5" height="27.5" fill="#50c078"/>
<rect x="1312.0" y="1254.0" width="26.5" height="27.5" fill="#3340a6"/>
<rect x="1337.5" y="1254.0" width="52.0" height="27.5" fill="#50c078"/>
<rect x="1388.5" y="1254.0" width="26.5" height="27.5" fill="#2fb8e2"/>
<rect x="1414.0" y="1254.0" width="26.5" height="27.5" fill="#2c72c9"/>
<rect x="1439.5" y="1254.0" width="77.5" height="27.5" fill="#3340a6"/>
<rect x="1516.0" y="1254.0" width="26.5" height="27.5" fill="#2a8cd6"/>
<rect x="1541.5" y="1254.0" width="26.5" height="27.5" fill="#2fb8e2"/>
<rect x="1567.0" y="1254.0" width="26.5" height="27.5" fill="#50c078"/>
<rect x="1592.5" y="1254.0" width="77.5" height="27.5" fill="#f2e732"/>
<rect x="1669.0" y="1254.0" width="26.5" height="27.5" fill="#50c078"/>
<rect x="1082.5" y="1280.5" width="52.0" height="27.5" fill="#2a8cd6"/>
<rect x="1133.5" y="1280.5" width="103.0" height="27.5" fill="#2c72c9"/>
<rect x="1235.5" y="1280.5" width="154.0" height="27.5" fill="#50c078"/>
<rect x="1388.5" y="1280.5" width="26.5" height="27.5" fill="#2a8cd6"/>
<rect x="1414.0" y="1280.5" width="77.5" height="27.5" fill="#3340a6"/>
<rect x="1490.5" y="1280.5" width="52.0" height="27.5" fill="#2a8cd6"/>
<rect x="1541.5" y="1280.5" width="154.0" height="27.5" fill="#50c078"/>
<rect x="1082.5" y="1307.0" width="52.0" height="27.5" fill="#2c72c9"/>
<rect x="1133.5" y="1307.0" width="26.5" height="27.5" fill="#2a8cd6"/>
<rect x="1159.0" y="1307.0" width="77.5" height="27.5" fill="#2c72c9"/>
<rect x="1235.5" y="1307.0" width="26.5" height="27.5" fill="#2a8cd6"/>
<rect x="1261.0" y="1307.0" width="52.0" height="27.5" fill="#50c078"/>
<rect x="1312.0" y="1307.0" width="26.5" height="27.5" fill="#2fb8e2"/>
<rect x="1337.5" y="1307.0" width="26.5" height="27.5" fill="#2a8cd6"/>
<rect x="1363.0" y="1307.0" width="154.0" height="27.5" fill="#2c72c9"/>
<rect x="1516.0" y="1307.0" width="26.5" height="27.5" fill="#2a8cd6"/>
<rect x="1541.5" y="1307.0" width="26.5" height="27.5" fill="#2fb8e2"/>
<rect x="1567.0" y="1307.0" width="103.0" height="27.5" fill="#50c078"/>
<rect x="1669.0" y="1307.0" width="26.5" height="27.5" fill="#2a8cd6"/>
<rect x="1082.5" y="1333.5" width="26.5" height="27.5" fill="#2c72c9"/>
<rect x="1108.0" y="1333.5" width="52.0" height="27.5" fill="#2a8cd6"/>
<rect x="1159.0" y="1333.5" width="52.0" height="27.5" fill="#2c72c9"/>
<rect x="1210.0" y="1333.5" width="26.5" height="27.5" fill="#2a8cd6"/>
<rect x="1235.5" y="1333.5" width="77.5" height="27.5" fill="#50c078"/>
<rect x="1312.0" y="1333.5" width="52.0" height="27.5" fill="#2a8cd6"/>
<rect x="1363.0" y="1333.5" width="26.5" height="27.5" fill="#2fb8e2"/>
<rect x="1388.5" y="1333.5" width="26.5" height="27.5" fill="#2a8cd6"/>
<rect x="1414.0" y="1333.5" width="52.0" height="27.5" fill="#2c72c9"/>
<rect x="1465.0" y="1333.5" width="52.0" height="27.5" fill="#2a8cd6"/>
<rect x="1516.0" y="1333.5" width="26.5" height="27.5" fill="#2fb8e2"/>
<rect x="1541.5" y="1333.5" width="52.0" height="27.5" fill="#2a8cd6"/>
<rect x="1592.5" y="1333.5" width="26.5" height="27.5" fill="#2fb8e2"/>
<rect x="1618.0" y="1333.5" width="52.0" height="27.5" fill="#50c078"/>
<rect x="1669.0" y="1333.5" width="26.5" height="27.5" fill="#2c72c9"/>
<rect x="1082.5" y="1360.0" width="77.5" height="27.5" fill="#2a8cd6"/>
<rect x="1159.0" y="1360.0" width="26.5" height="27.5" fill="#2c72c9"/>
<rect x="1184.5" y="1360.0" width="52.0" height="27.5" fill="#2a8cd6"/>
<rect x="1235.5" y="1360.0" width="77.5" height="27.5" fill="#50c078"/>
<rect x="1312.0" y="1360.0" width="52.0" height="27.5" fill="#2a8cd6"/>
<rect x="1363.0" y="1360.0" width="26.5" height="27.5" fill="#50c078"/>
<rect x="1388.5" y="1360.0" width="26.5" height="27.5" fill="#2fb8e2"/>
<rect x="1414.0" y="1360.0" width="52.0" height="27.5" fill="#2a8cd6"/>
<rect x="1465.0" y="1360.0" width="52.0" height="27.5" fill="#2fb8e2"/>
<rect x="1516.0" y="1360.0" width="26.5" height="27.5" fill="#2a8cd6"/>
<rect x="1541.5" y="1360.0" width="26.5" height="27.5" fill="#2c72c9"/>
<rect x="1567.0" y="1360.0" width="26.5" height="27.5" fill="#2a8cd6"/>
<rect x="1592.5" y="1360.0" width="52.0" height="27.5" fill="#50c078"/>
<rect x="1643.5" y="1360.0" width="26.5" height="27.5" fill="#2c72c9"/>
<rect x="1669.0" y="1360.0" width="26.5" height="27.5" fill="#2a8cd6"/>
<rect x="1082.5" y="1386.5" width="77.5" height="27.5" fill="#2a8cd6"/>
<rect x="1159.0" y="1386.5" width="52.0" height="27.5" fill="#2c72c9"/>
<rect x="1210.0" y="1386.5" width="77.5" height="27.5" fill="#2a8cd6"/>
<rect x="1286.5" y="1386.5" width="52.0" height="27.5" fill="#50c078"/>
<rect x="1337.5" y="1386.5" width="77.5" height="27.5" fill="#2a8cd6"/>
<rect x="1414.0" y="1386.5" width="52.0" height="27.5" fill="#2c72c9"/>
<rect x="1465.0" y="1386.5" width="77.5" height="27.5" fill="#2a8cd6"/>
<rect x="1541.5" y="1386.5" width="52.0" height="27.5" fill="#50c078"/>
<rect x="1592.5" y="1386.5" width="26.5" height="27.5" fill="#2fb8e2"/>
<rect x="1618.0" y="1386.5" width="77.5" height="27.5" fill="#2a8cd6"/>
<rect x="1082.5" y="1413.0" width="26.5" height="27.5" fill="#2a8cd6"/>
<rect x="1108.0" y="1413.0" width="103.0" height="27.5" fill="#2c72c9"/>
<rect x="1210.0" y="1413.0" width="77.5" height="27.5" fill="#2a8cd6"/>
<rect x="1286.5" y="1413.0" width="26.5" height="27.5" fill="#f2e732"/>
<rect x="1312.0" y="1413.0" width="26.5" height="27.5" fill="#50c078"/>
<rect x="1337.5" y="1413.0" width="26.5" height="27.5" fill="#2a8cd6"/>
<rect x="1363.0" y="1413.0" width="26.5" height="27.5" fill="#2fb8e2"/>
<rect x="1388.5" y="1413.0" width="26.5" height="27.5" fill="#2a8cd6"/>
<rect x="1414.0" y="1413.0" width="26.5" height="27.5" fill="#2c72c9"/>
<rect x="1439.5" y="1413.0" width="26.5" height="27.5" fill="#3340a6"/>
<rect x="1465.0" y="1413.0" width="26.5" height="27.5" fill="#2c72c9"/>
<rect x="1490.5" y="1413.0" width="26.5" height="27.5" fill="#2a8cd6"/>
<rect x="1516.0" y="1413.0" width="26.5" height="27.5" fill="#50c078"/>
<rect x="1541.5" y="1413.0" width="26.5" height="27.5" fill="#f2e732"/>
<rect x="1567.0" y="1413.0" width="26.5" height="27.5" fill="#50c078"/>
<rect x="1592.5" y="1413.0" width="52.0" height="27.5" fill="#2a8cd6"/>
<rect x="1643.5" y="1413.0" width="52.0" height="27.5" fill="#50c078"/>
<rect x="1082.5" y="1439.5" width="26.5" height="27.5" fill="#2a8cd6"/>
<rect x="1108.0" y="1439.5" width="26.5" height="27.5" fill="#3340a6"/>
<rect x="1133.5" y="1439.5" width="52.0" height="27.5" fill="#2c72c9"/>
<rect x="1184.5" y="1439.5" width="77.5" height="27.5" fill="#50c078"/>
<rect x="1261.0" y="1439.5" width="26.5" height="27.5" fill="#2fb8e2"/>
<rect x="1286.5" y="1439.5" width="77.5" height="27.5" fill="#50c078"/>
<rect x="1363.0" y="1439.5" width="26.5" height="27.5" fill="#2fb8e2"/>
<rect x="1388.5" y="1439.5" width="26.5" height="27.5" fill="#2a8cd6"/>
<rect x="1414.0" y="1439.5" width="52.0" height="27.5" fill="#2c72c9"/>
<rect x="1465.0" y="1439.5" width="26.5" height="27.5" fill="#2a8cd6"/>
<rect x="1490.5" y="1439.5" width="26.5" height="27.5" fill="#50c078"/>
<rect x="1516.0" y="1439.5" width="52.0" height="27.5" fill="#f2e732"/>
<rect x="1567.0" y="1439.5" width="26.5" height="27.5" fill="#2fb8e2"/>
<rect x="1592.5" y="1439.5" width="103.0" height="27.5" fill="#2a8cd6"/>
<rect x="1082.5" y="1466.0" width="26.5" height="27.5" fill="#2a8cd6"/>
<rect x="1108.0" y="1466.0" width="52.0" height="27.5" fill="#2c72c9"/>
<rect x="1159.0" y="1466.0" width="26.5" height="27.5" fill="#2a8cd6"/>
<rect x="1184.5" y="1466.0" width="52.0" height="27.5" fill="#50c078"/>
<rect x="1235.5" y="1466.0" width="52.0" height="27.5" fill="#2a8cd6"/>
<rect x="1286.5" y="1466.0" width="52.0" height="27.5" fill="#50c078"/>
<rect x="1337.5" y="1466.0" width="26.5" height="27.5" fill="#2fb8e2"/>
<rect x="1363.0" y="1466.0" width="52.0" height="27.5" fill="#2a8cd6"/>
<rect x="1414.0" y="1466.0" width="52.0" height="27.5" fill="#2c72c9"/>
<rect x="1465.0" y="1466.0" width="26.5" height="27.5" fill="#2a8cd6"/>
<rect x="1490.5" y="1466.0" width="26.5" height="27.5" fill="#50c078"/>
<rect x="1516.0" y="1466.0" width="26.5" height="27.5" fill="#f2e732"/>
<rect x="1541.5" y="1466.0" width="26.5" height="27.5" fill="#50c078"/>
<rect x="1567.0" y="1466.0" width="26.5" height="27.5" fill="#2fb8e2"/>
<rect x="1592.5" y="1466.0" width="26.5" height="27.5" fill="#2a8cd6"/>
<rect x="1618.0" y="1466.0" width="52.0" height="27.5" fill="#2c72c9"/>
<rect x="1669.0" y="1466.0" width="26.5" height="27.5" fill="#2a8cd6"/>
<rect x="1082.5" y="1492.5" width="26.5" height="27.5" fill="#2a8cd6"/>
<rect x="1108.0" y="1492.5" width="52.0" height="27.5" fill="#2c72c9"/>
<rect x="1159.0" y="1492.5" width="52.0" height="27.5" fill="#2a8cd6"/>
<rect x="1210.0" y="1492.5" width="52.0" height="27.5" fill="#50c078"/>
<rect x="1261.0" y="1492.5" width="77.5" height="27.5" fill="#2a8cd6"/>
<rect x="1337.5" y="1492.5" width="26.5" height="27.5" fill="#50c078"/>
<rect x="1363.0" y="1492.5" width="103.0" height="27.5" fill="#2c72c9"/>
<rect x="1465.0" y="1492.5" width="26.5" height="27.5" fill="#2fb8e2"/>
<rect x="1490.5" y="1492.5" width="52.0" height="27.5" fill="#50c078"/>
<rect x="1541.5" y="1492.5" width="26.5" height="27.5" fill="#2a8cd6"/>
<rect x="1567.0" y="1492.5" width="77.5" height="27.5" fill="#2c72c9"/>
<rect x="1643.5" y="1492.5" width="52.0" height="27.5" fill="#2a8cd6"/>
<rect x="1082.5" y="1519.0" width="26.5" height="27.5" fill="#2c72c9"/>
<rect x="1108.0" y="1519.0" width="26.5" height="27.5" fill="#3340a6"/>
<rect x="1133.5" y="1519.0" width="26.5" height="27.5" fill="#2c72c9"/>
<rect x="1159.0" y="1519.0" width="26.5" height="27.5" fill="#2a8cd6"/>
<rect x="1184.5" y="1519.0" width="26.5" height="27.5" fill="#50c078"/>
<rect x="1210.0" y="1519.0" width="103.0" height="27.5" fill="#2a8cd6"/>
<rect x="1312.0" y="1519.0" width="52.0" height="27.5" fill="#2c72c9"/>
<rect x="1363.0" y="1519.0" width="26.5" height="27.5" fill="#3340a6"/>
<rect x="1388.5" y="1519.0" width="52.0" height="27.5" fill="#2a8cd6"/>
<rect x="1439.5" y="1519.0" width="52.0" height="27.5" fill="#50c078"/>
<rect x="1490.5" y="1519.0" width="26.5" height="27.5" fill="#2fb8e2"/>
<rect x="1516.0" y="1519.0" width="26.5" height="27.5" fill="#2a8cd6"/>
<rect x="1541.5" y="1519.0" width="103.0" height="27.5" fill="#2c72c9"/>
<rect x="1643.5" y="1519.0" width="52.0" height="27.5" fill="#2a8cd6"/>
<rect x="1082.5" y="1545.5" width="26.5" height="27.5" fill="#3340a6"/>
<rect x="1108.0" y="1545.5" width="26.5" height="27.5" fill="#2a2880"/>
<rect x="1133.5" y="1545.5" width="103.0" height="27.5" fill="#2a8cd6"/>
<rect x="1235.5" y="1545.5" width="26.5" height="27.5" fill="#50c078"/>
<rect x="1261.0" y="1545.5" width="52.0" height="27.5" fill="#2a8cd6"/>
<rect x="1312.0" y="1545.5" width="77.5" height="27.5" fill="#2c72c9"/>
<rect x="1388.5" y="1545.5" width="77.5" height="27.5" fill="#2fb8e2"/>
<rect x="1465.0" y="1545.5" width="26.5" height="27.5" fill="#2a8cd6"/>
<rect x="1490.5" y="1545.5" width="154.0" height="27.5" fill="#2c72c9"/>
<rect x="1643.5" y="1545.5" width="26.5" height="27.5" fill="#2a8cd6"/>
<rect x="1669.0" y="1545.5" width="26.5" height="27.5" fill="#2c72c9"/>
<rect x="1082.5" y="1572.0" width="26.5" height="27.5" fill="#3340a6"/>
<rect x="1108.0" y="1572.0" width="26.5" height="27.5" fill="#2c72c9"/>
<rect x="1133.5" y="1572.0" width="26.5" height="27.5" fill="#2a8cd6"/>
<rect x="1159.0" y="1572.0" width="26.5" height="27.5" fill="#50c078"/>
<rect x="1184.5" y="1572.0" width="52.0" height="27.5" fill="#2a8cd6"/>
<rect x="1235.5" y="1572.0" width="26.5" height="27.5" fill="#2fb8e2"/>
<rect x="1261.0" y="1572.0" width="52.0" height="27.5" fill="#2a8cd6"/>
<rect x="1312.0" y="1572.0" width="26.5" height="27.5" fill="#50c078"/>
<rect x="1337.5" y="1572.0" width="26.5" height="27.5" fill="#2fb8e2"/>
<rect x="1363.0" y="1572.0" width="52.0" height="27.5" fill="#2a8cd6"/>
<rect x="1414.0" y="1572.0" width="26.5" height="27.5" fill="#2fb8e2"/>
<rect x="1439.5" y="1572.0" width="26.5" height="27.5" fill="#2a8cd6"/>
<rect x="1465.0" y="1572.0" width="154.0" height="27.5" fill="#2c72c9"/>
<rect x="1618.0" y="1572.0" width="77.5" height="27.5" fill="#3340a6"/>
<rect x="1082.5" y="1598.5" width="26.5" height="27.5" fill="#2c72c9"/>
<rect x="1108.0" y="1598.5" width="103.0" height="27.5" fill="#2a8cd6"/>
<rect x="1210.0" y="1598.5" width="26.5" height="27.5" fill="#50c078"/>
<rect x="1235.5" y="1598.5" width="26.5" height="27.5" fill="#2a8cd6"/>
<rect x="1261.0" y="1598.5" width="26.5" height="27.5" fill="#2c72c9"/>
<rect x="1286.5" y="1598.5" width="26.5" height="27.5" fill="#3340a6"/>
<rect x="1312.0" y="1598.5" width="52.0" height="27.5" fill="#50c078"/>
<rect x="1363.0" y="1598.5" width="77.5" height="27.5" fill="#2a8cd6"/>
<rect x="1439.5" y="1598.5" width="128.5" height="27.5" fill="#2c72c9"/>
<rect x="1567.0" y="1598.5" width="128.5" height="27.5" fill="#3340a6"/>
<rect x="1082.5" y="1625.0" width="26.5" height="27.5" fill="#2c72c9"/>
<rect x="1108.0" y="1625.0" width="26.5" height="27.5" fill="#2a8cd6"/>
<rect x="1133.5" y="1625.0" width="52.0" height="27.5" fill="#2c72c9"/>
<rect x="1184.5" y="1625.0" width="52.0" height="27.5" fill="#2a8cd6"/>
<rect x="1235.5" y="1625.0" width="26.5" height="27.5" fill="#2c72c9"/>
<rect x="1261.0" y="1625.0" width="52.0" height="27.5" fill="#3340a6"/>
<rect x="1312.0" y="1625.0" width="103.0" height="27.5" fill="#2a8cd6"/>
<rect x="1414.0" y="1625.0" width="26.5" height="27.5" fill="#2fb8e2"/>
<rect x="1439.5" y="1625.0" width="26.5" height="27.5" fill="#2a8cd6"/>
<rect x="1465.0" y="1625.0" width="26.5" height="27.5" fill="#2c72c9"/>
<rect x="1490.5" y="1625.0" width="179.5" height="27.5" fill="#3340a6"/>
<rect x="1669.0" y="1625.0" width="26.5" height="27.5" fill="#2c72c9"/>
<rect x="1082.5" y="1651.5" width="77.5" height="27.5" fill="#2a8cd6"/>
<rect x="1159.0" y="1651.5" width="26.5" height="27.5" fill="#2c72c9"/>
<rect x="1184.5" y="1651.5" width="77.5" height="27.5" fill="#2a8cd6"/>
<rect x="1261.0" y="1651.5" width="26.5" height="27.5" fill="#50c078"/>
<rect x="1286.5" y="1651.5" width="52.0" height="27.5" fill="#2a8cd6"/>
<rect x="1337.5" y="1651.5" width="26.5" height="27.5" fill="#2c72c9"/>
<rect x="1363.0" y="1651.5" width="52.0" height="27.5" fill="#2a8cd6"/>
<rect x="1414.0" y="1651.5" width="26.5" height="27.5" fill="#2fb8e2"/>
<rect x="1439.5" y="1651.5" width="26.5" height="27.5" fill="#2c72c9"/>
<rect x="1465.0" y="1651.5" width="179.5" height="27.5" fill="#3340a6"/>
<rect x="1643.5" y="1651.5" width="26.5" height="27.5" fill="#2c72c9"/>
<rect x="1669.0" y="1651.5" width="26.5" height="27.5" fill="#2a8cd6"/>
<rect x="1082.5" y="1678.0" width="26.5" height="27.5" fill="#2a8cd6"/>
<rect x="1108.0" y="1678.0" width="52.0" height="27.5" fill="#50c078"/>
<rect x="1159.0" y="1678.0" width="26.5" height="27.5" fill="#2a8cd6"/>
<rect x="1184.5" y="1678.0" width="26.5" height="27.5" fill="#2c72c9"/>
<rect x="1210.0" y="1678.0" width="52.0" height="27.5" fill="#2a8cd6"/>
<rect x="1261.0" y="1678.0" width="26.5" height="27.5" fill="#2c72c9"/>
<rect x="1286.5" y="1678.0" width="52.0" height="27.5" fill="#2a8cd6"/>
<rect x="1337.5" y="1678.0" width="26.5" height="27.5" fill="#2c72c9"/>
<rect x="1363.0" y="1678.0" width="77.5" height="27.5" fill="#2a8cd6"/>
<rect x="1439.5" y="1678.0" width="52.0" height="27.5" fill="#3340a6"/>
<rect x="1490.5" y="1678.0" width="26.5" height="27.5" fill="#2a8cd6"/>
<rect x="1516.0" y="1678.0" width="52.0" height="27.5" fill="#3340a6"/>
<rect x="1567.0" y="1678.0" width="26.5" height="27.5" fill="#2c72c9"/>
<rect x="1592.5" y="1678.0" width="103.0" height="27.5" fill="#2a8cd6"/>
<circle cx="1376.2" cy="1188.2" r="10.5" fill="#f2e732"/>
<circle cx="1274.2" cy="1320.8" r="10.5" fill="#f2e732"/>
</g>
<rect x="1074.0" y="1061.0" width="627.0" height="647.0" fill="url(#dots)"/>
</g>
</g>
<polyline points="1722.0,1299.0 1581.0,1410.0" fill="none" stroke="#0a0a14" stroke-width="3.4"/>
<polyline points="1581.0,1410.0 1293.5,1637.5" fill="none" stroke="#0a0a14" stroke-width="3.4" stroke-dasharray="9 5"/>
<polyline points="1293.5,1637.5 1091.0,1641.0" fill="none" stroke="#0a0a14" stroke-width="3.4" stroke-dasharray="26 4 12 6"/>
<polyline points="1187.0,1085.0 1176.0,1179.0 1166.0,1255.0 1162.0,1368.0 1155.0,1392.0 1142.0,1437.0 1132.0,1475.0 1123.0,1516.0 1117.0,1554.0 1109.0,1573.0 1096.0,1610.0 1091.0,1637.0" fill="none" stroke="#0b1238" stroke-width="2.8" stroke-dasharray="6 9" opacity="0.78"/>
<polyline points="1091.0,1641.0 1097.0,1661.0 1106.0,1683.0" fill="none" stroke="#0a0a14" stroke-width="3.2" stroke-dasharray="7 8" opacity="0.8"/>
<polyline points="1580.0,1409.0 1591.0,1441.0 1608.0,1459.0 1623.0,1473.0 1636.0,1478.0 1655.0,1482.0 1685.0,1482.0" fill="none" stroke="#0a0a14" stroke-width="3.2" stroke-dasharray="7 7" opacity="0.8"/>
<polygon points="1685.0,1476.0 1711.0,1475.0 1719.0,1485.0 1720.0,1531.0 1707.0,1534.0 1689.0,1521.0" fill="none" stroke="#111" stroke-width="3.2" stroke-dasharray="6 6" opacity="0.85"/>
<text x="1134.0" y="1057.0" font-size="26" font-weight="bold" fill="#0a0a0a" stroke="#0a0a0a" stroke-width="0.7" textLength="567.0" lengthAdjust="spacingAndGlyphs">Modell: METRAS - TRACT: 16.09.1992, 11 UTC</text>
<rect x="1173.0" y="1737.5" width="20.0" height="12.5" fill="#2c2c8c"/>
<rect x="1212.6" y="1737.5" width="20.0" height="12.5" fill="#2f3d9b"/>
<rect x="1252.0" y="1737.5" width="20.0" height="12.5" fill="#2a4aaa"/>
<rect x="1291.0" y="1737.5" width="20.0" height="12.5" fill="#1f8fd6"/>
<rect x="1330.0" y="1737.5" width="20.0" height="12.5" fill="#4cc0da"/>
<rect x="1371.0" y="1737.5" width="20.0" height="12.5" fill="#6fd08c"/>
<rect x="1413.0" y="1737.5" width="20.0" height="12.5" fill="#f6f040"/>
<rect x="1459.0" y="1737.5" width="20.0" height="12.5" fill="#f4e838"/>
<rect x="1508.6" y="1737.5" width="20.0" height="12.5" fill="#f04a28"/>
<rect x="1557.0" y="1737.5" width="20.0" height="12.5" fill="#ee2a2a"/>
<text x="1076.0" y="1769.0" font-size="13.5" fill="#7c8187" textLength="53.0" lengthAdjust="spacingAndGlyphs">Z<tspan font-size="9" dy="3">i</tspan><tspan dy="-3"> in m</tspan></text>
<text x="1189.0" y="1769.0" font-size="13.5" fill="#7c8187" textLength="25.0" lengthAdjust="spacingAndGlyphs">160</text>
<text x="1228.0" y="1769.0" font-size="13.5" fill="#7c8187" textLength="26.5" lengthAdjust="spacingAndGlyphs">320</text>
<text x="1265.0" y="1769.0" font-size="13.5" fill="#7c8187" textLength="28.0" lengthAdjust="spacingAndGlyphs">480</text>
<text x="1304.0" y="1769.0" font-size="13.5" fill="#7c8187" textLength="26.0" lengthAdjust="spacingAndGlyphs">640</text>
<text x="1346.0" y="1769.0" font-size="13.5" fill="#7c8187" textLength="28.0" lengthAdjust="spacingAndGlyphs">800</text>
<text x="1389.0" y="1769.0" font-size="13.5" fill="#7c8187" textLength="26.0" lengthAdjust="spacingAndGlyphs">960</text>
<text x="1430.0" y="1769.0" font-size="13.5" fill="#7c8187" textLength="34.0" lengthAdjust="spacingAndGlyphs">1120</text>
<text x="1474.5" y="1769.0" font-size="13.5" fill="#7c8187" textLength="34.1" lengthAdjust="spacingAndGlyphs">1280</text>
<text x="1524.0" y="1769.0" font-size="13.5" fill="#7c8187" textLength="34.0" lengthAdjust="spacingAndGlyphs">1440</text>
<text x="1680.0" y="1769.0" font-size="13.5" fill="#7c8187" textLength="39.0" lengthAdjust="spacingAndGlyphs">3 m/s</text>
<path d="M1689.0 1742.0 h8 m-3 -3 l3 3 l-3 3" fill="none" stroke="#999" stroke-width="1.5"/>
</g>
</svg>
<div class="l c" id="c0" style="left:146.0px;top:1840.50px;letter-spacing:0.166px;word-spacing:0.000px;">Abb. 11-7:</div>
<div class="l c" id="c1" style="left:277.4px;top:1840.50px;letter-spacing:1.323px;word-spacing:0.000px;">Ozonverteilung und Windfeld in etwa 200 m über Grund sowie Grenzschichtdicke in gleicher Darstellung wie Abb. 11-6,</div>
<div class="l c" id="c2" style="left:276.0px;top:1876.00px;letter-spacing:1.152px;word-spacing:0.000px;">jedoch für die feiner auflösenden Modelle KAMM/DRAIS (links) und METRAS/MECTM (rechts).</div>
<div class="l b" id="a0" style="left:145.0px;top:2134.00px;letter-spacing:0.754px;word-spacing:0.000px;">bald die Ozonkonzentration einen Schwellenwert von</div>
<div class="l b" id="a1" style="left:145.0px;top:2174.20px;letter-spacing:0.061px;word-spacing:0.000px;">180 µg/m<sup>3</sup> (≈90 ppbv) überschreitet. Dabei ist auch eine</div>
<div class="l b" id="a2" style="left:145.0px;top:2214.40px;letter-spacing:0.676px;word-spacing:0.000px;">Vorhersage über die Entwicklung der Konzentrations-</div>
<div class="l b" id="a3" style="left:145.0px;top:2254.60px;letter-spacing:0.387px;word-spacing:0.000px;">werte, über die betroffene Region und über die voraus-</div>
<div class="l b" id="a4" style="left:145.0px;top:2294.80px;letter-spacing:0.800px;word-spacing:2.235px;">sichtliche Dauer der Smogperiode abzugeben. Ande-</div>
<div class="l b" id="a5" style="left:145.0px;top:2335.00px;letter-spacing:0.800px;word-spacing:0.160px;">rerseits wird eine routinemäßige Ozonprognose in ei-</div>
<div class="l b" id="a6" style="left:145.0px;top:2375.20px;letter-spacing:0.614px;word-spacing:0.000px;">nigen europäischen Ländern gegenwärtig erst erprobt;</div>
<div class="l b" id="a7" style="left:145.0px;top:2415.40px;letter-spacing:-0.110px;word-spacing:0.000px;">erste Ergebnisse sind z.B. bei Tilmes et al. (2001) zu fin-</div>
<div class="l b" id="a8" style="left:145.0px;top:2455.60px;letter-spacing:0.269px;word-spacing:0.000px;">den. Die hier vorgestellten beiden Evaluierungsfälle le-</div>
<div class="l b" id="a9" style="left:145.0px;top:2495.80px;letter-spacing:0.800px;word-spacing:1.754px;">gen den Schluß nahe, daß eine stationsgenaue Ozon-</div>
<div class="l b" id="a10" style="left:145.0px;top:2536.00px;letter-spacing:0.642px;word-spacing:0.000px;">prognose mit den derzeitigen CTMs im Sinne der hier</div>
<div class="l b" id="r0" style="left:1030.5px;top:2134.00px;letter-spacing:0.502px;word-spacing:-0.000px;">benutzten und gegenüber der Luftreinhaltepraxis deut-</div>
<div class="l b" id="r1" style="left:1030.5px;top:2174.20px;letter-spacing:0.800px;word-spacing:8.457px;">lich verschärften Qualitätsanforderungen (Differen-</div>
<div class="l b" id="r2" style="left:1030.5px;top:2214.40px;letter-spacing:0.028px;word-spacing:0.000px;">zen von maximal ±10 % anstelle von innerhalb des Fak-</div>
<div class="l b" id="r3" style="left:1030.5px;top:2254.60px;letter-spacing:0.557px;word-spacing:0.000px;">tors 2 liegenden Differenzen) nicht möglich sein wird.</div>
<div class="l b" id="r4" style="left:1030.5px;top:2294.80px;letter-spacing:0.800px;word-spacing:1.712px;">Das bedeutet nicht automatisch, daß die Modelle zur</div>
<div class="l b" id="r5" style="left:1030.5px;top:2335.00px;letter-spacing:0.800px;word-spacing:2.879px;">Ozonvorhersage untauglich wären, sondern daß man</div>
<div class="l b" id="r6" style="left:1030.5px;top:2375.20px;letter-spacing:0.341px;word-spacing:0.000px;">die feste Orts- und Zeitbindung zwischen Beobachtung</div>
<div class="l b" id="r7" style="left:1030.5px;top:2415.40px;letter-spacing:0.800px;word-spacing:0.622px;">und Simulationsergebnis lockern muß. So scheint die</div>
<div class="l b" id="r8" style="left:1030.5px;top:2455.60px;letter-spacing:0.800px;word-spacing:2.245px;">Vorhersage der Ozonbelastung in einer größeren Re-</div>
<div class="l b" id="r9" style="left:1030.5px;top:2495.80px;letter-spacing:0.402px;word-spacing:0.000px;">gion nach Definition neuer Qualitätsziele durchaus mit</div>
<div class="l b" id="r10" style="left:1030.5px;top:2536.00px;letter-spacing:0.233px;word-spacing:0.000px;">einiger Sicherheit machbar, z.B. durch die Bestimmung</div>
<div class="l b" id="pg" style="left:1788.0px;top:2639.00px;transform:scaleX(0.90000);">27</div>
</body></html>
